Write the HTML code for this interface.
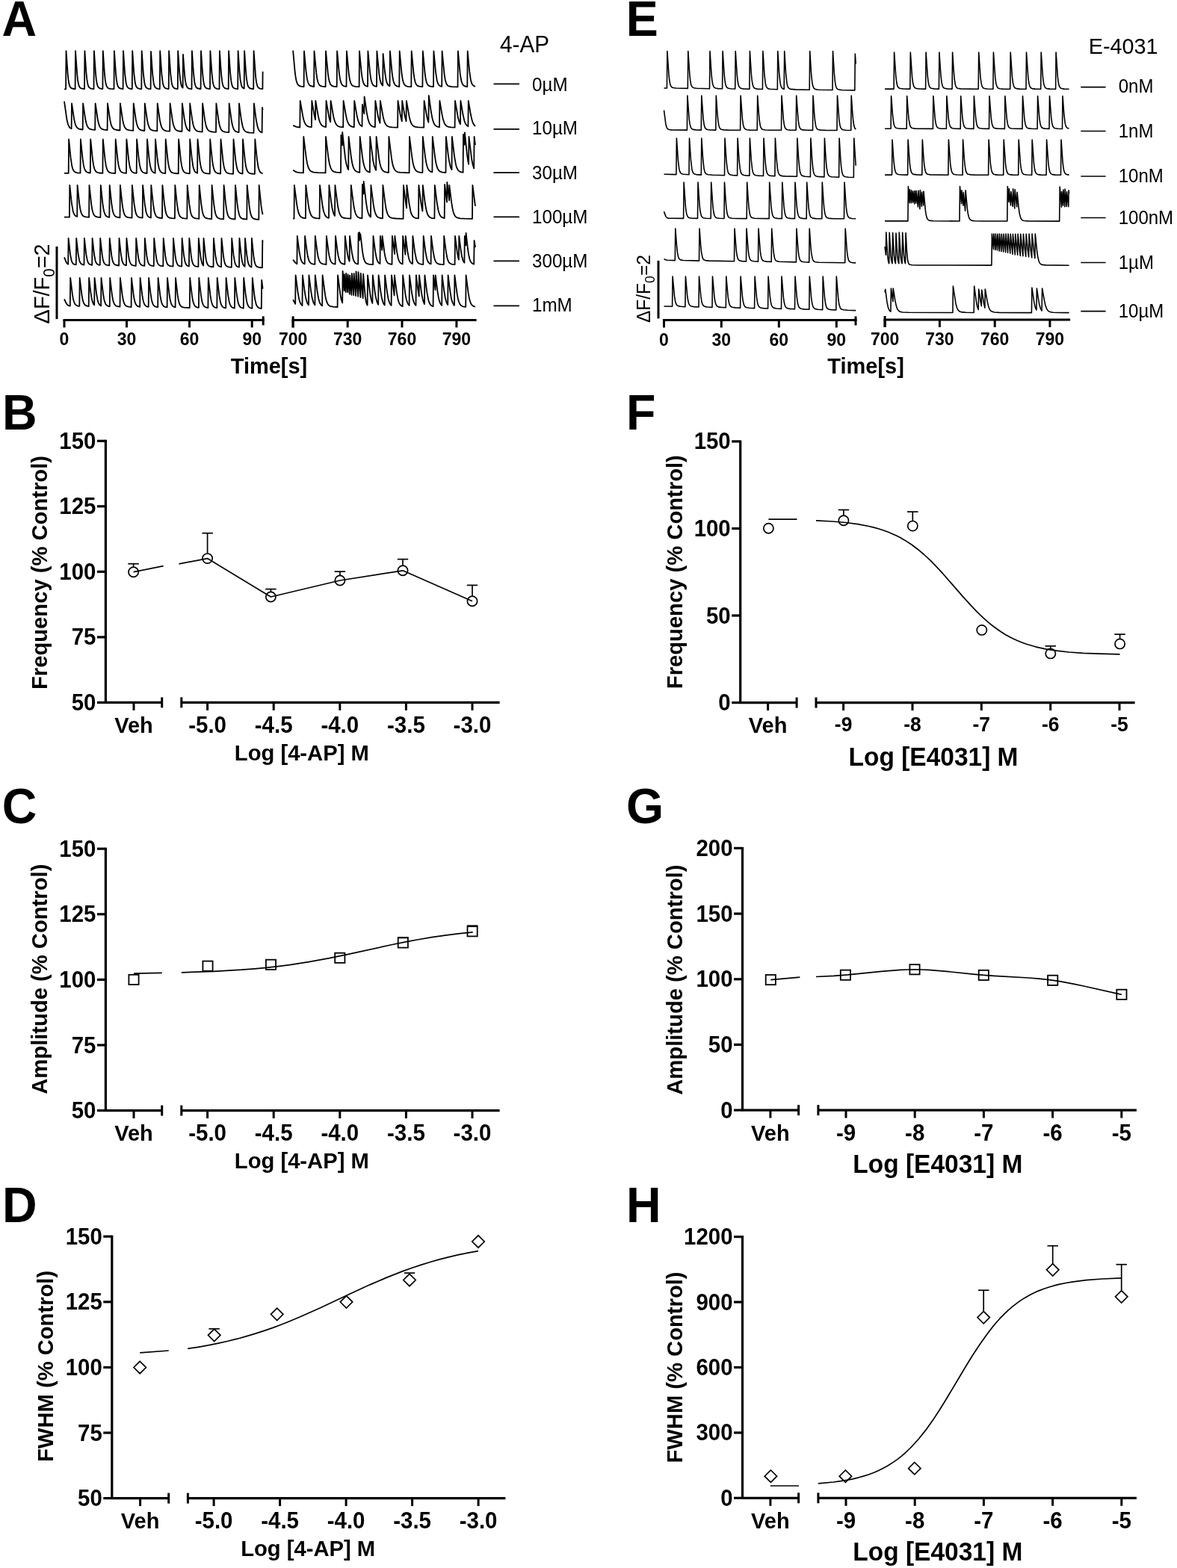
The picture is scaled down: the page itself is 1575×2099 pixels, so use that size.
<!DOCTYPE html>
<html><head><meta charset="utf-8"><title>Figure</title><style>html,body{margin:0;padding:0;background:#fff;}svg{display:block;}</style></head><body>
<svg width="1575" height="2099" viewBox="0 0 1575 2099" font-family="'Liberation Sans', Arial, sans-serif" fill="#000" stroke="#000">
<rect x="0" y="0" width="1575" height="2099" fill="#fff" stroke="none"/>
<g stroke="none">
<text transform="translate(2.6 47.5) scale(0.9605 1)" font-size="67.16" font-weight="bold" text-anchor="start" stroke="none">A</text>
<text transform="translate(2.9 574.9) scale(0.9605 1)" font-size="67.16" font-weight="bold" text-anchor="start" stroke="none">B</text>
<text transform="translate(2.8 1101.5) scale(0.9605 1)" font-size="67.16" font-weight="bold" text-anchor="start" stroke="none">C</text>
<text transform="translate(2.9 1635.6) scale(0.9605 1)" font-size="67.16" font-weight="bold" text-anchor="start" stroke="none">D</text>
<text transform="translate(837.7 47.6) scale(0.9605 1)" font-size="67.16" font-weight="bold" text-anchor="start" stroke="none">E</text>
<text transform="translate(838 574.8) scale(0.9605 1)" font-size="67.16" font-weight="bold" text-anchor="start" stroke="none">F</text>
<text transform="translate(838 1101.5) scale(0.9605 1)" font-size="67.16" font-weight="bold" text-anchor="start" stroke="none">G</text>
<text transform="translate(838 1635.6) scale(0.9605 1)" font-size="67.16" font-weight="bold" text-anchor="start" stroke="none">H</text>
</g>
<g fill="none">
<polyline points="86,119.3 88.1,119.3 88.5,68.2 90.7,99.4 91.5,106.9 92.3,111.8 93.3,115.3 94.5,117.2 96.3,118.4 99.2,119 100.6,119.1 101,68.2 103.2,99.4 104,106.9 104.8,111.8 105.8,115.3 107,117.2 108.7,118.4 111.6,118.9 113,119.1 113.4,68.2 115.5,98.3 116.3,106.2 117.1,111.3 118.1,115 119.3,117.1 121,118.3 123.8,118.9 125.5,119.1 125.9,68.2 128,98.3 128.8,106.2 129.6,111.3 130.6,115 131.8,117.1 133.5,118.3 136.2,118.9 137.4,119 137.8,68.2 139.9,98.3 140.7,106.2 141.5,111.3 142.5,115 143.7,117.1 145.3,118.3 147.9,118.9 152.5,119.2 152.9,68.2 155,98.3 155.8,106.2 156.6,111.3 157.5,114.7 158.7,117 160.3,118.2 162.8,118.9 164.6,119 165,68.2 167.1,98.3 168.6,110.8 169.5,114.4 170.7,116.9 172.2,118.1 174.7,118.8 176.8,119 177.2,68.2 179.3,98.3 180.8,110.8 181.7,114.4 182.9,116.9 184.4,118.1 186.8,118.8 189.3,119.1 189.7,68.2 191.8,98.3 193.3,110.8 194.2,114.4 195.3,116.8 196.8,118.1 199.1,118.8 201.6,119.1 202,69 204.1,98.6 205.6,110.9 206.5,114.5 207.6,116.8 209,118 211.2,118.8 213.8,119.1 214.2,68.2 216.3,98.3 217.7,110.2 218.6,114.1 219.7,116.6 221.1,118 223.2,118.7 225.7,119 226.1,68.2 228.2,98.3 229.6,110.2 230.5,114.1 231.5,116.4 232.9,117.9 234.9,118.7 237.8,119 238.2,68.2 240.1,95.8 241.2,106.9 242.6,114.1 243.5,116.3 244.6,117.6 245,73 247.2,101.3 248,108.1 248.9,112.9 249.9,115.8 251.3,117.7 253.2,118.6 256.5,119.1 256.9,68.2 258.9,97.1 260.3,109.7 261.1,113.5 262.1,116.1 263.3,117.6 265.1,118.5 268.6,119 269,68.2 271,97.1 272.3,109 273.1,113.1 274.1,115.9 275.3,117.5 276.9,118.4 281,119.1 281.4,68.2 283.4,97.1 284.6,108.4 285.4,112.7 286.3,115.5 287.4,117.2 289,118.3 290.8,118.8 293.5,119.1 293.9,68.2 295.9,97.1 297.1,108.4 297.8,112.2 298.7,115.3 299.8,117.1 301.2,118.2 303,118.7 305.7,119 306.1,68.2 308,95.8 309.2,107.7 309.9,111.8 310.7,114.7 311.7,116.8 313,118 315,118.7 318.2,119.1 318.6,68.2 320.5,95.8 321.6,106.9 323,114.1 323.9,116.3 325,117.6 326.7,118.5 327.1,68.2 328.9,94.5 329.9,105.3 331.2,113.1 332,115.5 333,117.1 333.9,117.9 335.1,118.5 339.2,119.1 339.6,68.2 342.1,102.6 343.2,110.8 344.5,115.5 345.5,117.1 346.7,118.1 348.5,118.7 351.4,119 351.6,95.7" fill="none" stroke-width="1.8" stroke-linejoin="round"/>
<polyline points="392.1,67.6 394.6,95.3 395.5,102.4 396.4,107.4 397.4,110.9 398.7,113.4 400.3,114.8 402.7,115.6 406.6,116.1 407,68.5 409.4,94.4 410.9,105.4 411.8,109.3 412.9,112.2 414.2,114.1 415.9,115.2 420.1,116 420.5,68.5 423.3,97.9 424.3,104.9 425.5,110 426.8,113 427.6,114 428.6,114.8 431.1,115.6 435.6,116.1 436,68.5 438.8,97.9 439.8,104.9 440.9,109.7 442.2,112.8 443.9,114.7 446.4,115.6 450.7,116.1 451.1,68.5 453.8,97.1 454.7,103.7 455.7,108.6 456.9,112.1 458.4,114.2 460.4,115.3 463.5,115.9 463.9,68.5 466.8,98.8 467.9,106 469.1,110.6 470.5,113.4 471.4,114.4 472.4,115 475.3,115.8 480.6,116.2 481,68.5 483.6,96.2 484.5,103.1 485.4,107.8 486.5,111.4 487.8,113.7 489.5,115 492,115.8 492.4,68.5 495,96.2 495.9,103.1 496.9,108.3 498,111.7 499.4,113.9 501.2,115.2 504,115.9 504.4,68.5 507.3,98.8 508.4,106 509.7,110.9 510.8,113.2 512.2,114.6 512.6,72 515,96 516.5,106.3 517.4,109.9 518.5,112.6 519.8,114.3 521.5,115.3 521.9,68.5 524.6,97.1 525.5,103.8 526.5,108.7 527.7,112.1 529.2,114.3 531.2,115.4 534.3,116 534.7,68.5 537.5,98 538.6,105.5 539.8,110.4 541.2,113.3 543,115 545.6,115.8 550.3,116.2 550.7,68.5 553.5,98 554.5,104.9 555.6,109.8 556.9,112.9 558.6,114.8 561.1,115.7 565.4,116.2 565.8,68.5 568.6,98 569.6,105 570.7,109.8 572,112.9 573.6,114.7 575.9,115.7 580,116.2 580.4,68.5 583,96.3 584.7,107.5 585.8,111.2 587.1,113.6 588.8,115.1 591.2,115.8 591.6,68.5 594.6,99.6 595.8,107 597.2,111.7 598.8,114.2 599.8,115 601.1,115.5 605.1,116.1 612.5,116.4 612.9,68.5 615.6,97.2 616.5,103.8 617.5,108.7 618.7,112.2 620.2,114.3 622.2,115.5 625.3,116.1 625.7,68.5 628.2,95.4 629.9,107 631,111 632.2,113.4 633.8,114.9 636,115.8" fill="none" stroke-width="1.8" stroke-linejoin="round"/>
<polyline points="86,135.6 89.5,160.3 90.9,166 92.6,169.8 93.9,171.3 95.6,172.3 96,138.5 99.1,159.1 100.2,164.2 101.4,168 102.8,170.5 104.6,172.1 106.9,173 110.7,173.5 111.1,138.5 114.3,159.8 115.4,164.8 116.7,168.7 118.2,171.1 120.1,172.6 122.7,173.4 127.2,173.8 127.6,138.5 130.8,160 131.9,165.1 133.2,168.9 134.7,171.4 136.6,172.9 139.2,173.7 143.6,174.2 144,138.5 147.2,160.2 148.4,165.7 149.7,169.4 151.2,171.8 153.1,173.2 155.8,174 160.5,174.5 160.9,138.5 164.2,160.9 165.4,166.3 166.7,169.9 168.3,172.3 170.3,173.7 173.2,174.4 178.3,174.9 178.7,138.5 181.8,160 182.9,165.4 184.1,169.3 185.5,171.9 187.3,173.6 189.6,174.5 193.4,175 193.8,138.5 197,160.8 198.2,166.4 199.5,170.2 201,172.7 202.9,174.1 205.6,174.9 210.3,175.4 210.7,138.5 213.9,161 215.1,166.6 216.4,170.5 217.9,173 219.8,174.4 222.5,175.3 227.2,175.7 227.6,138.5 230.8,161.2 231.9,166.5 233.2,170.5 234.7,173.1 236.5,174.6 239.1,175.5 243.5,176 243.9,138.5 246.7,158.9 248.4,167.5 249.4,170.5 250.6,172.9 252,174.4 253.8,175.4 254.2,138.5 257.3,160.9 258.4,166.4 259.6,170.5 261,173.2 262.7,174.9 265,175.8 268.8,176.4 270.7,176.6 271.1,138.5 274.2,161.1 275.3,166.7 276.4,170.5 277.7,173.2 279.4,175 281.5,176 284.8,176.6 289,176.9 289.4,138.5 292.4,160.6 293.4,166 294.5,170.2 295.8,173.2 297.3,175.1 299.2,176.2 302.1,176.9 306.3,177.2 306.7,138.5 309.7,160.8 310.6,165.8 311.6,169.8 312.8,172.9 314.2,175 315.9,176.2 318.3,177 319.6,177.2 320,138.5 322.9,160.3 324.7,169.3 325.8,172.5 327.1,174.7 328.6,176.1 330.7,177 334,177.6 339.5,177.9 339.9,138.5 342.8,160.5 344.6,169.6 345.7,172.8 347,175.1 348.5,176.5 350.6,177.4 351,144 351.6,147.2" fill="none" stroke-width="1.8" stroke-linejoin="round"/>
<polyline points="392.1,167.9 396.7,169.8 401.3,170.5 401.7,135 405.3,155.7 406.5,160.7 407.7,164.1 409.2,166.8 411,168.6 413.4,169.6 416.9,170.2 417.3,135 420.4,153.2 422,160.3 422.3,135 425.8,155.2 426.9,160 428.1,163.6 429.5,166.4 431.2,168.3 433.2,169.4 436.1,170 436.5,135 440,155.2 441.1,160 442.2,163.4 442.6,135 446.3,156.2 447.6,161.4 448.9,164.8 450.5,167.4 452.5,169 455.1,169.9 459.2,170.3 459.6,135 463.1,155.3 464.2,160 465.4,163.7 466.9,166.6 468.6,168.4 470.7,169.5 473.8,170.1 474.2,135 477.4,153.7 479.1,161.1 480.2,164.2 481.4,166.5 482.8,168.1 484.5,169.2 484.9,140 487.3,152.2 487.6,129.5 490.8,151.1 492.5,159.6 493.6,163.2 494.8,165.8 496.2,167.7 497.9,169 499.6,169.7 501.9,170.1 502.3,135 505.9,155.8 507.2,161.1 508.5,164.7 508.9,135 512.9,157.6 514.4,162.9 516.1,166.5 518.1,168.6 520.7,169.8 524.7,170.4 532.1,170.7 532.5,135 535.8,154.3 537.8,162.4 538.2,135 541.5,154.3 543.5,162.4 543.9,135 547.9,157.6 549.4,163 551.1,166.5 553.1,168.7 555.7,169.8 559.8,170.4 567.2,170.7 567.6,135 571.1,155.3 572.2,160.1 573.4,163.8 573.8,128 576.9,149.8 578.6,158.8 579.6,162.4 580.8,165.4 582.1,167.4 583.6,168.7 585.5,169.6 588,170.2 588.4,135 591.4,152.7 592.7,158.9 594.4,164.3 595.3,166.1 596.4,167.6 598.1,169 600.3,169.9 603.5,170.4 608.6,170.7 609,135 612.9,157.3 614.4,162.7 616,166.3 616.4,135 619.6,153.8 621.3,161.2 622.3,164.1 623.5,166.5 624.8,168.1 626.4,169.2 626.8,135 629.9,153.3 631.4,160.1 632.4,163.3 633.4,165.6 634.6,167.5 636,168.8" fill="none" stroke-width="1.8" stroke-linejoin="round"/>
<polyline points="86,231.8 91.7,231.8 92.1,186.5 94.6,211.2 96.1,221.3 97,225 98.1,227.8 99.4,229.6 101,230.7 103.5,231.3 107.5,231.7 107.9,186.5 110.7,213.7 111.7,220.4 112.7,224.7 113.9,227.9 115.5,230 117.5,231 120.8,231.6 121.2,186.5 124.1,214.5 125.2,221.5 126.4,226.1 127.8,228.9 128.7,229.9 129.7,230.6 132.5,231.5 137.4,231.9 137.8,186.5 140.8,215.4 141.9,222 143.1,226.4 144.5,229.2 146.4,230.8 149.2,231.6 154.3,232 154.7,186.5 157.6,214.7 158.6,221.1 159.7,225.6 161,228.6 162.7,230.5 165,231.4 169,231.9 169.4,186.5 172.2,213.9 173.2,220.6 174.2,225 175.4,228.2 177,230.3 179.2,231.4 182.7,231.9 183.1,186.5 185.9,214 186.9,220.7 188,225.4 189.3,228.6 190.9,230.5 193.1,231.5 196.6,232 197,186.5 199.6,212.3 200.5,219 201.4,223.6 202.5,227.2 203.7,229.4 205.3,230.9 207.6,231.7 208,186.5 210.8,214 211.8,220.8 212.8,225.2 214,228.4 215.6,230.5 217.8,231.6 221.3,232.1 221.7,186.5 224.7,215.6 225.8,222.4 227,226.8 228.5,229.7 230.4,231.2 233.3,232 238.7,232.4 239.1,186.5 242,214.9 243,221.4 244.1,226 245.5,229.2 247.2,231 249.6,231.9 253.8,232.4 254.2,186.5 256.8,212.5 258.4,223 259.4,226.7 260.6,229.3 262.1,230.9 264.1,231.8 264.5,186.5 267.5,215.8 268.6,222.5 269.8,227 271.2,229.8 273.1,231.4 275.9,232.2 280.8,232.6 281.2,186.5 284,214.3 285,221 286.1,225.9 287.4,229.1 289,231 291.3,232 295.1,232.6 295.5,186.5 298.5,215.9 299.6,222.7 300.8,227.2 302.2,229.9 304.1,231.6 307,232.4 312.1,232.8 312.5,186.5 315.2,213.5 316.1,220 317.1,224.9 318.3,228.5 319.7,230.6 321.6,231.9 324.6,232.6 325,186.5 327.9,215.2 329,222.3 330.2,227 331.6,229.9 333.4,231.6 336.1,232.5 340.9,232.9 341.3,186.5 343.9,212.8 345.6,223.8 346.7,227.6 347.9,230 349.4,231.5 351.6,232.4" fill="none" stroke-width="1.8" stroke-linejoin="round"/>
<polyline points="392.1,227.8 395.4,229.8 397.7,230.7 400.7,231.1 405.9,231.3 406.3,183 409.9,212.3 411.2,219.4 412.7,224.5 414.4,227.7 415.4,228.8 416.6,229.6 419.7,230.6 425.1,231.1 435.6,231.3 436,183 439.7,213 441.1,220.3 442.6,225.1 444.4,228.1 445.5,229.1 446.7,229.8 450.1,230.7 456,231.1 456.4,181 458,194.6 458.2,177 462,211.4 463.5,219.8 465.2,225.3 466.2,227.2 466.6,183 470,211 471.2,218 472.4,222.8 473.8,226.3 475.6,228.7 477.9,230.1 481.3,230.8 481.7,183 485,210.3 486.1,217 487.2,221.8 488.5,225.5 490.1,228.1 492.1,229.7 494.8,230.6 495.2,183 499.1,214.2 500.6,221.5 502.3,226.2 503.2,227.7 503.6,183 507.1,211.7 508.3,218.5 509.7,223.8 511.3,227.2 513.2,229.2 515.8,230.4 520,231 520.4,183 523.9,211.7 525.1,218.5 526.3,223.2 527.8,226.7 529.7,229 532.1,230.3 535.9,230.9 547.6,231.4 548,183 551.4,211 552.5,217.6 553.7,222.6 555.1,226.2 556.9,228.7 559.1,230.1 562.5,230.8 565.4,231.1 565.8,183 569.1,210.3 570.1,216.6 571.2,221.5 572.5,225.4 574,228 575.9,229.6 578.4,230.5 578.8,183 582.1,210.3 583.2,217.1 584.3,221.9 585.6,225.6 587.2,228.2 589.1,229.7 591.8,230.6 596.5,231.1 596.9,183 599.7,206.6 600.9,214.9 602.6,222.6 603.5,225.2 604.5,227.1 604.9,183 608.1,209.6 610,220.4 611.2,224.4 612.5,227.1 614.1,229 616.2,230.2 619.6,230.9 620,180 621.6,193.9 621.9,177.4 625,206.9 626,214.1 627.1,219.9 627.5,183 631.2,213.1 632.6,220.4 634.2,225.4 634.6,183 636,194.2" fill="none" stroke-width="1.8" stroke-linejoin="round"/>
<polyline points="86,290.6 92.9,290.7 93.3,248 95.9,272.1 97.5,281.7 98.5,285.2 99.7,287.6 101.2,289.1 103.2,290 103.6,248 106.3,272.9 107.2,278.9 108.1,283.1 109.2,286.3 110.6,288.5 112.4,289.8 115,290.4 119.1,290.8 119.5,248 122.2,273.1 123.1,279.1 124,283.2 125.1,286.5 126.5,288.7 128.2,289.9 130.7,290.6 134.4,291 134.8,248 137.4,272.4 138.3,278.6 139.2,283 140.3,286.4 141.6,288.7 143.3,290 145.8,290.8 146.3,290.9 146.7,248 149.3,272.5 150.2,278.7 151.1,283.2 152.2,286.6 153.5,288.8 155.1,290.1 157.5,290.9 160.5,291.3 160.9,248 163.5,272.6 164.4,278.9 165.3,283.3 166.4,286.8 167.6,288.9 169.2,290.3 171.5,291.1 176.5,291.6 176.9,248 179.5,272.7 181.2,283.1 182.3,286.7 183.5,288.9 185.1,290.4 187.3,291.2 190.7,291.7 191.1,248 193.7,272.8 195.4,283.2 196.5,286.9 197.7,289.1 199.2,290.5 201.3,291.4 201.9,291.5 202.3,248 204.9,272.9 206.6,283.3 207.6,286.7 208.8,289.1 210.3,290.6 212.3,291.5 217,292.1 217.4,248 220,273 221.6,283.1 222.6,286.7 223.8,289.2 225.2,290.7 227.2,291.6 229.8,292.1 233.9,292.4 234.3,248 236.8,272.3 238.4,282.8 239.4,286.6 240.5,289.1 241.9,290.7 243.8,291.8 246.3,292.3 250.3,292.6 250.7,248 253.2,272.4 254.8,283 255.7,286.5 256.8,289.1 258.1,290.8 259.8,291.8 262.3,292.4 266.3,292.8 266.7,248 269.2,272.5 270.7,282.7 271.6,286.3 272.7,289.1 273.9,290.8 275.5,291.9 278.3,292.7 283.2,293.1 283.6,248 286.1,272.7 287.5,282.3 288.3,285.8 289.3,288.7 290.5,290.7 291.9,291.9 294.5,292.8 299.2,293.3 299.6,248 302,271.9 303.3,281.4 304.2,285.6 305.1,288.4 306.1,290.4 307.4,291.8 308.5,292.4 310,292.9 314.6,293.5 315,248 317.3,271.1 318.5,280.4 320.1,287.5 321,289.7 322.1,291.3 323.3,292.3 324.9,293 330.3,293.7 330.7,248 333.9,278.5 335.2,285.6 336.8,290.1 338.1,291.8 339.8,292.9 342.3,293.5 346.3,293.9 346.7,248 349.5,275.7 350.5,282.4 351.6,287.2" fill="none" stroke-width="1.8" stroke-linejoin="round"/>
<polyline points="392.1,292.7 393.5,292.7 393.9,248 397.2,273.8 398.3,280 399.5,284.7 400.9,288.1 402.6,290.2 404.8,291.5 408.2,292.2 408.9,292.2 409.3,248 412.6,273.8 413.7,280 414.9,284.7 416.3,288.1 418,290.2 420.1,291.5 423.3,292.1 427.6,292.5 428,248 431.7,276.3 433.1,283 434.7,287.5 435.7,289.2 436.9,290.4 438.3,291.3 440,291.8 440.4,248 443.1,269.6 444.4,278 446,284.7 446.9,287.1 448,289 448.4,248 452.1,276.3 453.5,283 455,287.3 456.8,290 457.9,290.9 459.2,291.5 462.8,292.2 469.4,292.6 469.8,248 473.2,274.5 474.3,280.5 475.5,285 476.9,288.3 478.7,290.5 481,291.6 484.5,292.3 484.9,247 486.5,259.7 486.7,243 489.6,268.6 491.2,279.2 492.2,283.5 493.3,286.7 494.5,289 496,290.5 496.4,248 499.6,273.2 500.6,279.1 501.7,283.8 503,287.3 504.5,289.7 506.3,291.1 508.9,292 512,292.4 512.4,248 515.6,273.2 516.6,279.1 517.6,283.4 518.8,286.9 520.3,289.5 522.1,291 524.5,291.9 529.7,292.5 539.6,292.8 540,248 542.8,270.4 544.1,278.6 544.4,248 547.5,272.5 549.4,282.7 550.6,286.5 552,289.1 553.6,290.7 555.8,291.8 560,292.4 560.4,248 563.5,272.5 565.4,282.7 565.8,248 568.9,272.5 570.7,282.3 571.8,286 573.1,288.7 574.6,290.4 576.6,291.6 578.6,292.1 581.4,292.4 581.8,248 584.8,271.8 586.5,281.5 587.5,285.1 588.7,288 590.1,290 591.8,291.2 594.7,292.1 595.1,247 598,270.6 598.3,244 601.1,268.4 601.3,248 604.2,271.1 605.7,280.1 606.6,283.8 607.6,286.7 608.7,288.9 610.1,290.5 612.4,291.7 615.8,292.4 621.8,292.7 632,292.9 632.4,248 636,275.8" fill="none" stroke-width="1.8" stroke-linejoin="round"/>
<polyline points="86,344.4 88.7,351.1 89.8,352.7 91.2,353.8 91.6,319 94,340.2 95.6,348.6 96.6,351.2 97.8,352.9 99.4,353.9 101.8,354.4 102.2,319 104.6,340.3 106.2,348.7 107.2,351.3 108.4,353 110,354 112.5,354.6 112.9,319 115.3,340.4 116.9,348.8 117.9,351.5 119.1,353.2 120.7,354.2 123.2,354.8 123.6,319 126,340.5 127.6,349 128.6,351.6 129.8,353.3 131.4,354.3 133.8,354.9 134.2,319 136.7,341.3 137.6,346.6 138.5,350.1 139.6,352.5 141,354 143,354.8 146.3,355.3 146.7,319 149.2,341.4 150.1,346.8 151,350.2 152.1,352.7 153.6,354.2 155.6,355 159.1,355.5 159.5,319 161.8,340.1 163.4,349.1 164.4,351.9 165.5,353.6 166.9,354.7 169,355.3 169.4,319 171.9,341.7 172.8,347 173.7,350.5 174.8,353 176.3,354.6 178.3,355.3 181.8,355.8 182.2,319 184.6,341 185.4,346.2 186.3,350 187.4,352.8 188.7,354.4 190.5,355.4 193.4,355.9 193.8,319 196.3,341.9 197.2,347.3 198.1,350.8 199.2,353.3 200.6,354.8 202.5,355.7 205.8,356.1 206.2,319 208.7,342 209.6,347.5 210.5,351 211.6,353.5 213,355 215,355.9 218.3,356.3 218.7,319 221.2,342.1 222.1,347.6 223.1,351.5 224.3,354 225.8,355.4 227.9,356.1 231.6,356.6 232,319 234.4,341.5 235.2,346.7 236.1,350.7 237.2,353.5 238.5,355.2 240.3,356.1 243.2,356.6 243.6,319 245.9,340.8 247.4,349.7 248.4,352.8 249.5,354.7 250.9,355.9 252.9,356.5 253.3,319 255.8,342.4 256.7,348 257.6,351.6 258.7,354.1 260.1,355.7 262.1,356.6 265.4,357 265.8,319 267.8,338.4 268.9,346.5 270.3,352.4 271.1,354.1 272.1,355.5 272.5,319 275,342.6 275.9,348.2 276.9,352.1 278.1,354.7 279.6,356.2 281.8,357 285.5,357.4 285.9,319 288.3,342 289.9,351 290.9,353.8 292.1,355.6 293.7,356.7 296.1,357.3 296.5,319 299,342.8 299.9,348.5 300.9,352.5 302.1,355.1 303.6,356.5 305.8,357.3 309.8,357.8 310.2,319 312.5,341.4 314.1,350.9 315.1,353.9 316.3,355.9 317.8,357 320,357.6 320.4,319 322.5,339.7 323.7,348.2 324.5,351.8 325.3,354.1 326.3,355.8 327.6,356.9 328,319 330.2,340.7 331.6,349.8 332.5,353.2 333.5,355.3 334.8,356.8 336.5,357.6 336.9,319 339.4,343.2 340.3,349 341.4,353.3 342.6,355.8 344.2,357.2 346.6,358 350.9,358.4 351.3,322 351.6,324" fill="none" stroke-width="1.8" stroke-linejoin="round"/>
<polyline points="392.1,347.6 395.1,351.6 397.4,353.3 397.8,316 400.5,337 402.2,345.9 403.2,348.9 404.4,351.1 405.8,352.5 407.7,353.3 408.1,316 411,338.3 412,343.8 413.1,347.8 414.4,350.6 416,352.4 418.1,353.3 421.4,353.9 421.8,316 424.8,339 425.8,344.3 426.9,348.1 428.2,350.8 429.9,352.5 432.1,353.4 435.8,353.9 436.5,354 436.9,316 439.7,337.7 440.6,342.9 441.6,346.9 442.8,350 444.2,351.9 446,353.1 448.6,353.7 449,316 451.4,334.9 452.5,341.9 454,347.9 454.8,349.8 455.8,351.4 456.8,352.4 458,353 461.4,353.8 461.8,316 465,340.2 466.2,345.9 467.6,349.8 468,316 470.8,337.7 472.6,346.6 473.7,349.6 475.1,351.7 476.8,353 479.2,353.6 479.6,312 480.8,322 481,311 482.1,320.2 482.3,313.4 485.1,337.1 486.1,343 487.1,347.1 488.3,350.1 489.8,352.1 491.7,353.2 494.4,353.8 499.1,354.1 499.5,316 502.1,336.4 503.7,345.1 504.6,348.2 505.7,350.6 506.9,352.1 508.5,353.1 508.9,316 511.3,334.9 511.6,316 514.5,338.4 515.4,343.4 516.4,347.3 517.6,350.2 519.1,352.2 521,353.2 523.8,353.8 524.5,353.9 524.9,316 528.1,340.2 528.4,316 531.1,337.1 532.9,346.3 534,349.4 535.2,351.4 536.7,352.7 538.7,353.5 539.1,316 542.4,340.8 542.7,316 545.3,336.4 546.9,345.2 547.9,348.5 549,350.7 550.3,352.3 552,353.2 552.4,316 555.2,337.8 557,346.7 558.1,349.7 559.4,351.7 561.1,353 563.4,353.7 566.3,354 566.7,316 569.4,337.1 571.1,346 572.1,349 573.3,351.2 574.7,352.6 576.6,353.4 577,316 579.7,337.1 581.4,346 582.5,349.2 583.7,351.3 585.2,352.7 587.1,353.5 589.7,353.9 593.8,354.2 594.2,316 596.8,336.4 598.4,345.2 599.4,348.5 600.5,350.8 601.8,352.3 603.5,353.3 605.5,353.8 608.6,354.1 609,316 611.9,338.4 612.9,343.9 613.9,347.7 614.3,316 616.7,335 617.9,342.5 619.5,348.5 620.4,350.5 621.4,351.8 621.8,316 623.4,328.5 623.6,312 626,333 627.1,340.7 628.5,347 629.3,349.2 630.2,350.9 631.9,352.7 634.2,353.6 634.6,322 636,331.1" fill="none" stroke-width="1.8" stroke-linejoin="round"/>
<polyline points="86,400.3 88.3,405.3 89.7,407.5 91.5,409 93.8,409.7 94.2,372 96.9,394.2 97.8,399.5 98.8,403.5 100,406.4 101.4,408.2 103.3,409.3 106.3,409.9 106.7,372 109.4,394.3 110.3,399.6 111.3,403.7 112.5,406.6 113.9,408.4 115.8,409.4 118.7,410 119.1,372 121.3,390.6 122.4,398.1 123.8,404.1 125.4,407.5 126.2,408.4 126.6,372 129.1,393 130.5,401.2 131.4,404.5 132.4,406.8 133.6,408.4 135.1,409.4 135.5,372 138.2,394.5 139.1,399.9 140,403.6 141.1,406.6 142.5,408.5 144.2,409.6 146.8,410.3 147.2,372 150,395.3 151,401 152,404.7 153.2,407.4 154.8,409.2 157,410.2 160.5,410.7 160.9,372 163.7,395.4 164.7,401.1 165.8,405.2 167.1,407.9 168.7,409.5 170.9,410.4 174.7,410.9 175.6,411 176,372 178.7,394.8 179.6,400.3 180.5,404.1 181.6,407 183,409.1 184.7,410.2 187.2,410.8 187.6,372 190.3,394.9 191.2,400.4 192.1,404.2 193.2,407.2 194.5,409.1 196.2,410.3 198.7,410.9 199.1,372 201.8,395 202.7,400.5 203.7,404.7 204.9,407.7 206.3,409.5 208.2,410.6 211.2,411.2 211.6,372 214.3,395.1 215.2,400.6 216.2,404.8 217.4,407.8 218.8,409.7 220.7,410.8 223.6,411.4 224,372 226.6,394.5 227.5,400.2 228.4,404.2 229.5,407.4 230.7,409.3 232.3,410.6 234.6,411.3 235,372 237.7,395.3 238.6,400.8 239.6,405.1 240.8,408.1 242.2,410 244.1,411.1 246.9,411.7 253.8,412.1 254.2,372 256.9,395.4 257.8,401 258.7,404.9 259.8,407.9 261.2,410 262.9,411.2 265.5,411.8 265.9,411.9 266.3,372 268.9,394.8 269.8,400.6 270.7,404.7 271.8,407.9 273.1,410 274.8,411.2 277.2,411.9 278.4,412.1 278.8,372 281.4,394.9 282.3,400.7 283.2,404.8 284.3,408 285.5,410 287.1,411.3 289.3,412 290.3,412.2 290.7,372 293.3,394.9 295,404.6 296,407.7 297.2,409.9 298.7,411.3 300.7,412.1 302.2,412.3 302.6,372 305.1,394.3 306.7,403.9 307.7,407.3 308.8,409.6 310.2,411.2 312.1,412.1 313.9,412.5 314.3,372 316.8,394.3 318.3,403.5 319.2,406.9 320.3,409.4 321.6,411.1 323.2,412 325.8,412.7 326.2,372 328.6,393.6 330,402.7 330.9,406.4 331.8,408.8 332.9,410.6 334.3,411.8 335.6,412.4 337.4,412.8 337.8,372 340.1,392.9 341.3,401.3 342.8,407.4 343.7,409.5 344.8,411.1 346.7,412.3 349.8,413 350.2,375 351.6,386.7" fill="none" stroke-width="1.8" stroke-linejoin="round"/>
<polyline points="392.1,401.3 395.2,406.9 395.6,368.4 398.4,390.2 399.9,399.1 400.9,403 401.9,405.7 403.1,407.7 404.5,409.1 404.9,368.4 407.6,389.5 409,398.1 410.8,404.7 411.8,406.8 413,408.4 413.4,368.4 416.1,389.5 417.5,398.1 419.3,404.7 420.3,406.8 421.4,408.3 421.8,368.4 424.7,391 426.3,400 427.3,403.6 428.4,406.3 429.7,408.2 431.2,409.4 431.6,368.4 435.2,395.4 436.5,401.6 438,405.9 439.7,408.4 440.7,409.2 442,409.9 445.4,410.6 451.6,411 452,368.4 455.5,394.9 456.8,401.2 458.2,405.5 458.6,363 460.6,389.2 460.8,367.2 462.8,391.1 463.2,365.8 465.2,391.2 465.6,367.3 467.8,393.7 468.1,368.6 470.4,394.9 470.8,366.2 473.2,395.2 473.6,366.1 476.1,396.1 476.5,363.4 478.2,386.4 479.2,396.8 479.5,364.1 481.4,388.7 482.4,398.2 482.7,365.9 484.7,390.3 485.7,399.2 486.1,366.7 488.8,397.6 490,404.5 490.7,406.8 491.6,408.5 492,368.4 495.6,395.5 496.9,401.6 498.4,405.9 498.8,368.4 501.5,389.6 502.7,397.1 504.3,403.7 505.2,405.9 506.2,407.7 506.6,368.4 509.3,389.6 510.7,398.2 512.5,404.8 513.5,406.9 514.7,408.5 515.1,368.4 517.9,390.3 519.3,398.7 520.2,402.4 521.2,405.3 522.3,407.4 523.6,408.9 524,368.4 527.6,395.5 527.9,368.4 530.9,391.7 532.7,401.3 533.8,404.8 535.1,407.4 536.7,409.1 538.7,410.1 539.1,368.4 542.6,394.9 543.8,400.9 545.2,405.3 546.3,407.4 547.6,408.9 548,368.4 550.8,390.3 552.2,398.7 553.1,402.4 554.1,405.3 555.2,407.4 556.5,408.9 556.9,368.4 559.5,388.8 560.7,396.6 561,368.4 563.6,388.8 564.8,396.6 566.3,403.1 568,407.1 568.4,368.4 571.4,391.7 573.3,401.7 574.5,405.3 575.8,407.7 577.4,409.3 579.6,410.3 580,368.4 582.5,388.1 582.7,368.4 585.5,390.3 586.9,398.7 587.8,402.4 588.8,405.3 589.9,407.4 591.2,408.9 591.6,368.4 594.3,389.6 595.6,397.7 597.2,404 598.1,406.2 599.2,408 599.6,368.4 602.4,390.3 603.8,398.7 604.7,402.4 605.7,405.3 606.8,407.4 608,408.8 608.4,368.4 611.7,393.7 612.8,399.7 614,404 615.4,407.1 617.2,409.2 619.5,410.3 623.2,410.9 623.6,368.4 626.7,392.4 627.7,398.2 628.8,402.8 630.1,406.2 631.6,408.5 633.4,409.8 636,410.6" fill="none" stroke-width="1.8" stroke-linejoin="round"/>
</g>
<line x1="76" y1="330" x2="76" y2="427.1" stroke-width="3" stroke-linecap="butt"/>
<line x1="84.5" y1="428.4" x2="353.7" y2="428.4" stroke-width="3" stroke-linecap="butt"/>
<line x1="86" y1="428.4" x2="86" y2="438.4" stroke-width="3" stroke-linecap="butt"/>
<line x1="169.5" y1="428.4" x2="169.5" y2="438.4" stroke-width="3" stroke-linecap="butt"/>
<line x1="253.5" y1="428.4" x2="253.5" y2="438.4" stroke-width="3" stroke-linecap="butt"/>
<line x1="337.2" y1="428.4" x2="337.2" y2="438.4" stroke-width="3" stroke-linecap="butt"/>
<line x1="352.2" y1="423.4" x2="352.2" y2="435.4" stroke-width="3" stroke-linecap="butt"/>
<g stroke="none">
<text transform="translate(86 462.4) scale(0.9605 1)" font-size="23.95" font-weight="bold" text-anchor="middle" stroke="none">0</text>
<text transform="translate(169.5 462.4) scale(0.9605 1)" font-size="23.95" font-weight="bold" text-anchor="middle" stroke="none">30</text>
<text transform="translate(253.5 462.4) scale(0.9605 1)" font-size="23.95" font-weight="bold" text-anchor="middle" stroke="none">60</text>
<text transform="translate(337.2 462.4) scale(0.9605 1)" font-size="23.95" font-weight="bold" text-anchor="middle" stroke="none">90</text>
</g>
<line x1="390.6" y1="428.4" x2="637.6" y2="428.4" stroke-width="3" stroke-linecap="butt"/>
<line x1="392.1" y1="428.4" x2="392.1" y2="438.4" stroke-width="3" stroke-linecap="butt"/>
<line x1="465.2" y1="428.4" x2="465.2" y2="438.4" stroke-width="3" stroke-linecap="butt"/>
<line x1="538" y1="428.4" x2="538" y2="438.4" stroke-width="3" stroke-linecap="butt"/>
<line x1="610.9" y1="428.4" x2="610.9" y2="438.4" stroke-width="3" stroke-linecap="butt"/>
<line x1="392.1" y1="423.4" x2="392.1" y2="438.4" stroke-width="3" stroke-linecap="butt"/>
<g stroke="none">
<text transform="translate(392.1 462.4) scale(0.9605 1)" font-size="23.95" font-weight="bold" text-anchor="middle" stroke="none">700</text>
<text transform="translate(465.2 462.4) scale(0.9605 1)" font-size="23.95" font-weight="bold" text-anchor="middle" stroke="none">730</text>
<text transform="translate(538 462.4) scale(0.9605 1)" font-size="23.95" font-weight="bold" text-anchor="middle" stroke="none">760</text>
<text transform="translate(610.9 462.4) scale(0.9605 1)" font-size="23.95" font-weight="bold" text-anchor="middle" stroke="none">790</text>
</g>
<g stroke="none">
<text transform="translate(360 500) scale(0.9605 1)" font-size="30.19" font-weight="bold" text-anchor="middle" stroke="none">Time[s]</text>
<text transform="translate(66.4 433.4) rotate(-90) scale(0.9605 1)" font-size="30.09" font-weight="normal" text-anchor="start" stroke="none">ΔF/F<tspan dy="7" font-size="21.34">0</tspan><tspan dy="-7">=2</tspan></text>
<text transform="translate(669 69.6) scale(0.9605 1)" font-size="30.92" font-weight="normal" text-anchor="start" stroke="none">4-AP</text>
<text transform="translate(712 121.5) scale(0.9605 1)" font-size="25.2" font-weight="normal" text-anchor="start" stroke="none">0µM</text>
<text transform="translate(712 180.4) scale(0.9605 1)" font-size="25.2" font-weight="normal" text-anchor="start" stroke="none">10µM</text>
<text transform="translate(712 239.5) scale(0.9605 1)" font-size="25.2" font-weight="normal" text-anchor="start" stroke="none">30µM</text>
<text transform="translate(712 298.6) scale(0.9605 1)" font-size="25.2" font-weight="normal" text-anchor="start" stroke="none">100µM</text>
<text transform="translate(712 357.8) scale(0.9605 1)" font-size="25.2" font-weight="normal" text-anchor="start" stroke="none">300µM</text>
<text transform="translate(712 417) scale(0.9605 1)" font-size="25.2" font-weight="normal" text-anchor="start" stroke="none">1mM</text>
</g>
<line x1="660.5" y1="112.3" x2="695" y2="112.3" stroke-width="1.7" stroke-linecap="butt"/>
<line x1="660.5" y1="172.8" x2="695" y2="172.8" stroke-width="1.7" stroke-linecap="butt"/>
<line x1="660.5" y1="231.2" x2="695" y2="231.2" stroke-width="1.7" stroke-linecap="butt"/>
<line x1="660.5" y1="290.4" x2="695" y2="290.4" stroke-width="1.7" stroke-linecap="butt"/>
<line x1="660.5" y1="349.3" x2="695" y2="349.3" stroke-width="1.7" stroke-linecap="butt"/>
<line x1="660.5" y1="409.3" x2="695" y2="409.3" stroke-width="1.7" stroke-linecap="butt"/>
<g fill="none">
<polyline points="888.5,118 892.4,118 892.9,68.5 895,99.9 895.8,107.3 896.6,111.9 897.6,114.9 899,116.7 901,117.5 904.7,118 920.3,118.4 920.8,68.5 922.9,100.1 923.7,107.6 924.5,112.2 925.5,115.2 926.8,116.9 928.7,117.8 932.2,118.3 949.5,118.7 950,68.5 952,99.1 952.8,107.1 953.6,112 954.6,115.3 955.8,117.1 957.6,118 960.9,118.6 966.6,118.8 967.1,68.5 969.1,99.2 969.9,107.2 970.7,112.2 971.7,115.5 972.9,117.3 974.7,118.2 977.7,118.7 983.7,119 984.2,68.5 986.2,99.3 986.9,106.6 987.7,111.8 988.6,115.2 989.8,117.2 991.5,118.3 994.5,118.9 1002.9,119.3 1003.4,68.5 1005.4,99.5 1006.1,106.7 1006.9,112 1007.8,115.4 1009,117.5 1010.6,118.5 1013.3,119.1 1020.4,119.5 1020.9,68.5 1022.9,99.6 1024.3,111.7 1025.2,115.3 1026.3,117.4 1027.8,118.6 1030.4,119.2 1040.3,119.7 1040.8,68.5 1042.7,98.4 1044,110.7 1044.8,114.5 1045.8,117 1047.1,118.5 1049.2,119.3 1049.7,68.5 1051.6,98.5 1053,111.4 1053.9,115.3 1054.9,117.4 1056.3,118.7 1058.5,119.4 1064.9,119.9 1083.2,120.2 1083.7,68.5 1085.6,98.7 1086.8,110.5 1087.6,114.6 1088.5,117.1 1089.7,118.7 1091.5,119.6 1093.9,120 1097.5,120.3 1114,120.5 1114.5,68.5 1116.3,97.6 1117.4,109.3 1118.1,113.6 1118.9,116.5 1119.8,118.3 1121.1,119.5 1123.2,120.1 1126.7,120.5 1143.8,120.9 1144.3,72 1145.2,85.5" fill="none" stroke-width="1.6" stroke-linejoin="round"/>
<polyline points="1184.1,119.1 1196.1,119.1 1196.6,70 1198.9,103.2 1199.9,111 1201.1,115.5 1202.5,117.5 1203.5,118.1 1204.8,118.5 1209.2,119 1217.8,119.1 1218.3,70 1220.6,103.3 1221.6,111 1222.8,115.5 1224.2,117.6 1226.3,118.5 1230.5,119 1238.6,119.1 1239.1,70 1241.3,102.2 1242.2,109.8 1243.3,114.8 1244.5,117.1 1245.3,117.8 1246.4,118.3 1249.9,118.9 1256.4,119.1 1256.9,70 1259.1,102.2 1260,109.9 1261.1,114.8 1262.3,117.1 1263.1,117.8 1264.2,118.3 1267.6,118.9 1274.1,119.1 1274.6,70 1276.2,94.7 1277.1,105.2 1278.3,113 1279,115.3 1279.8,116.8 1280.6,117.7 1281.7,118.3 1285.3,118.9 1309.2,119.2 1309.7,70 1312,103.3 1313,111.1 1314.1,115.4 1315.4,117.5 1316.3,118.1 1317.5,118.5 1321.4,119 1328.9,119.2 1329.4,70 1331.8,104.3 1332.8,111.6 1334,115.8 1335.4,117.7 1336.4,118.3 1337.8,118.7 1342.4,119.1 1351.7,119.2 1352.2,70 1354.5,103.3 1355.5,111.1 1356.7,115.6 1358.1,117.7 1360.3,118.6 1364.6,119.1 1373,119.2 1373.5,70 1375.8,103.3 1376.8,111.1 1377.9,115.4 1379.2,117.5 1380.1,118.1 1381.3,118.6 1385.2,119.1 1392.7,119.3 1393.2,70 1395.5,103.4 1396.5,111.1 1397.6,115.4 1398.9,117.5 1399.8,118.2 1401,118.6 1405,119.1 1412.6,119.3 1413.1,70 1415.4,103.4 1416.3,110.6 1417.4,115.2 1418.6,117.3 1419.4,118 1420.5,118.5 1424,119.1 1430.6,119.3" fill="none" stroke-width="1.6" stroke-linejoin="round"/>
<polyline points="888.5,147.6 890.9,166.2 892,170.3 892.7,171.7 893.5,172.6 895.3,173.5 898.5,173.9 919.4,174.1 919.9,128 922.2,159.2 923.1,165.9 924.2,170.2 925.5,172.3 927.5,173.4 931.2,173.9 938.3,174.1 938.8,128 941.1,159.2 942.1,166.5 943.2,170.5 944.5,172.5 946.6,173.5 950.5,174 957.8,174.1 958.3,128 959.9,151.2 960.8,161.1 961.9,167.9 962.6,170.3 963.4,171.8 964.2,172.7 965.2,173.2 968.6,173.9 974.7,174.1 990.6,174.2 991.1,128 993.5,160.2 994.5,167.1 995.7,171 997.1,172.8 999.5,173.7 1004,174.1 1013.2,174.2 1013.7,128 1015.3,151.2 1016.2,161.1 1017.3,168 1018,170.4 1018.8,171.9 1019.6,172.8 1020.6,173.3 1024,174 1030,174.2 1045.5,174.3 1046,128 1048.3,159.3 1049.3,166.7 1050.4,170.7 1051.7,172.7 1052.6,173.3 1053.8,173.7 1057.7,174.2 1065.2,174.3 1065.7,128 1068.1,160.3 1069.1,167.2 1070.3,171.2 1071.7,173 1074.1,173.9 1078.6,174.3 1087.5,174.4 1088,128 1089.6,151.3 1090.5,161.2 1091.6,168.2 1092.3,170.5 1093.1,172.1 1093.9,172.9 1094.9,173.5 1098.3,174.1 1104.4,174.4 1120,174.5 1120.5,128 1122.8,159.4 1123.7,166.2 1124.8,170.6 1126.1,172.7 1128,173.8 1131.7,174.3 1138.7,174.5 1139.2,128 1140.9,152.7 1141.9,163 1142.6,167.3 1143.3,170.1 1144.1,171.9 1145.2,173.1" fill="none" stroke-width="1.6" stroke-linejoin="round"/>
<polyline points="1184.1,172.3 1192.1,172.3 1192.6,128.5 1194.5,154.1 1195.8,164.6 1196.6,167.8 1197.6,170 1198.9,171.2 1200.8,171.8 1205,172.2 1213.2,172.3 1213.7,128.5 1215.3,150.5 1216.2,159.9 1217.4,166.8 1218.1,168.9 1218.9,170.3 1219.7,171 1220.8,171.5 1224.4,172.1 1248.4,172.4 1248.9,128.5 1251.2,158.2 1252.1,164.6 1253.2,168.7 1254.4,170.6 1256.3,171.7 1259.8,172.2 1266.4,172.3 1266.9,128.5 1269.2,158.2 1270.1,164.6 1271.2,168.7 1272.5,170.7 1274.5,171.7 1278.2,172.2 1285.2,172.4 1285.7,128.5 1287.9,157.3 1288.8,164.1 1289.9,168.5 1291.1,170.5 1291.9,171.2 1293,171.7 1296.4,172.2 1302.9,172.4 1303.4,128.5 1305.7,158.2 1306.7,165.2 1307.8,169 1309.2,170.9 1311.3,171.8 1315.4,172.3 1323.5,172.4 1324,128.5 1326.3,158.2 1327.3,165.2 1328.5,169.2 1329.9,171 1332.1,171.9 1336.3,172.3 1344.4,172.4 1344.9,128.5 1347.3,159.1 1348.3,165.7 1349.5,169.4 1350.2,170.5 1351,171.2 1353.4,172 1358.1,172.3 1368,172.4 1368.5,128.5 1370.8,158.3 1371.8,165.2 1372.9,169 1374.2,170.9 1376.3,171.9 1380.3,172.3 1388.1,172.5 1388.6,128.5 1390.8,157.3 1391.7,164.1 1392.7,168.3 1393.9,170.5 1395.6,171.6 1398.6,172.2 1404,172.4 1404.5,128.5 1406.7,157.3 1407.6,164.2 1408.7,168.5 1409.9,170.6 1410.7,171.3 1411.8,171.8 1415.2,172.3 1421.5,172.5 1422,128.5 1423.9,154.2 1425.3,165.2 1426.2,168.6 1427.2,170.4 1428.5,171.5 1430.6,172.1" fill="none" stroke-width="1.6" stroke-linejoin="round"/>
<polyline points="888.5,233.3 904.9,233.6 905.4,185 907.4,214.6 908.8,226.2 909.7,229.6 910.8,231.6 912.3,232.7 914.6,233.3 922,233.8 922.5,185 924.4,213.6 925.8,225.9 926.7,229.6 927.7,231.6 929.2,232.9 931.5,233.6 938.3,234.1 938.8,185 940.7,213.7 942.1,226.1 943,229.8 944,231.9 945.4,233.1 947.6,233.8 953.6,234.3 969.5,234.7 970,185 971.9,214 973.2,225.9 974,229.7 975,232.1 976.3,233.5 978.4,234.3 981.5,234.7 986.6,234.9 987.1,185 989,214.2 990.3,226.2 991.1,229.9 992.1,232.4 993.4,233.8 995.3,234.5 998.2,234.9 1002.9,235.2 1003.4,185 1005.3,214.4 1006.6,226.4 1007.4,230.2 1008.3,232.5 1009.5,233.9 1011.4,234.7 1015,235.2 1021.5,235.5 1022,185 1023.9,214.5 1025.1,226 1025.9,230.1 1026.8,232.6 1028,234.1 1029.7,235 1032.4,235.4 1036.9,235.7 1037.4,185 1039.3,214.7 1040.5,226.2 1041.2,229.9 1042.1,232.6 1043.2,234.2 1044.8,235.1 1047,235.6 1050.5,235.9 1066.4,236.3 1066.9,185 1068.7,213.6 1069.9,225.9 1070.6,229.9 1071.4,232.6 1072.4,234.3 1073.8,235.4 1077.3,236.2 1084.4,236.6 1084.9,185 1086.7,213.8 1087.8,225.5 1088.5,229.7 1089.2,232.3 1090.1,234.2 1091.4,235.5 1092.8,236 1095,236.4 1102.9,236.9 1103.4,185 1105.1,212.6 1106.1,224.1 1107.4,231.7 1108.2,233.8 1109.3,235.3 1110.7,236.2 1113,236.7 1122.6,237.2 1123.1,185 1124.7,211.2 1125.6,222.5 1126.7,230.3 1127.4,232.9 1128.2,234.7 1129.6,236.1 1131.7,236.8 1135.5,237.3 1142.3,237.5 1142.8,185 1145.2,221.7" fill="none" stroke-width="1.6" stroke-linejoin="round"/>
<polyline points="1184.1,234.1 1193.5,234.1 1194,187 1195.9,214.5 1197.2,225.8 1198,229.3 1199,231.6 1200.2,232.8 1202.1,233.5 1206.3,234 1214.6,234.1 1215.1,187 1217.4,218.9 1218.3,225.8 1219.4,230.2 1220.7,232.4 1221.6,233 1222.7,233.4 1226.5,233.9 1233.8,234.1 1234.3,187 1235.9,210.7 1236.8,220.8 1238,228.2 1238.7,230.5 1239.5,231.9 1240.3,232.7 1241.4,233.3 1245,233.9 1268.9,234.2 1269.4,187 1271.7,218.9 1272.6,225.8 1273.7,230.2 1275,232.4 1275.9,233.1 1277,233.5 1280.8,234 1288.1,234.2 1288.6,187 1290.2,210.7 1291.1,220.8 1292.2,227.8 1292.9,230.2 1293.7,231.8 1294.5,232.7 1295.6,233.3 1299.1,233.9 1305.4,234.2 1322.6,234.2 1323.1,187 1325.4,219 1326.4,226.4 1327.5,230.5 1328.8,232.5 1329.7,233.2 1330.9,233.6 1334.9,234.1 1342.7,234.2 1343.2,187 1345.5,219 1346.5,226.4 1347.6,230.5 1348.9,232.6 1349.8,233.2 1351,233.6 1355,234.1 1362.7,234.2 1363.2,187 1365.5,219 1366.4,225.9 1367.5,230.3 1368.7,232.4 1369.5,233 1370.6,233.5 1374.1,234 1380.7,234.2 1381.2,187 1383.5,219 1384.5,226.5 1385.6,230.6 1386.9,232.6 1388.9,233.6 1392.7,234.1 1400.1,234.3 1400.6,187 1402.9,219 1403.9,226.5 1405,230.6 1406.3,232.6 1408.3,233.6 1412.1,234.1 1419.5,234.3 1420,187 1422,215.8 1422.8,223.3 1423.6,227.9 1424.6,231 1425.8,232.7 1427.6,233.6 1430.6,234.1" fill="none" stroke-width="1.6" stroke-linejoin="round"/>
<polyline points="888.5,283.1 890.9,289.6 892,291.1 893.3,291.9 894.9,292.2 897.7,292.3 914.6,292.4 915.1,244 917.4,276.8 918.3,283.9 919.4,288.4 920.7,290.6 921.6,291.3 922.7,291.7 926.4,292.3 933.5,292.4 934,244 936.2,275.8 937.1,283.3 938.2,288.1 939.4,290.4 940.2,291.2 941.3,291.7 944.7,292.2 951.2,292.5 951.7,244 953.9,275.8 954.8,283.3 955.9,288.2 957.1,290.5 957.9,291.2 959,291.7 962.5,292.3 969,292.5 969.5,244 971.1,268.4 972,278.8 973.1,286 973.7,288.2 974.5,289.9 975.3,290.9 976.2,291.5 979.4,292.2 985.2,292.5 999.2,292.6 999.7,244 1001.3,268.4 1002.2,278.8 1003.3,286.1 1003.9,288.2 1004.7,290 1005.5,290.9 1006.4,291.5 1009.6,292.3 1015.3,292.5 1029.2,292.6 1029.7,244 1031.9,275.9 1032.8,283.4 1033.9,288.3 1035.1,290.6 1035.9,291.3 1036.9,291.8 1040.2,292.4 1046.3,292.6 1046.8,244 1049,275.9 1049.9,283.4 1051,288.3 1052.2,290.6 1053,291.3 1054,291.8 1057.3,292.4 1063.5,292.6 1064,244 1066.2,275.9 1067.1,283.5 1068.1,288 1069.3,290.5 1070.9,291.7 1073.8,292.4 1079.2,292.6 1079.7,244 1082,277 1083,284.7 1084.1,288.9 1084.7,290.1 1085.5,291.1 1087.6,292.1 1091.7,292.6 1099.8,292.7 1100.3,244 1101.9,268.5 1102.8,278.9 1103.9,286.2 1105.2,290 1106,291 1106.9,291.6 1110,292.4 1115.7,292.7 1129.5,292.8 1130,244 1132.2,276 1133.1,283.6 1134.1,288.1 1135.3,290.6 1136.9,291.8 1139.8,292.5 1145.2,292.7" fill="none" stroke-width="1.6" stroke-linejoin="round"/>
<polyline points="1184.1,295.9 1214.9,295.9 1215.4,249.5 1217.2,271.8 1217.5,253.8 1219.4,271.6 1219.7,254.8 1221.5,271 1221.8,256 1223.7,273 1224,255.6 1225.8,271.9 1226.1,255.3 1228.4,276.9 1228.8,255.2 1230.9,279.7 1231.3,254.6 1233.3,276.2 1233.6,257 1235.6,275 1236,256 1238.2,280.4 1239.1,286.7 1240,290.6 1241.1,293.2 1242.6,294.7 1244.8,295.4 1248.6,295.8 1284,296 1284.5,249.5 1286.6,272.8 1286.9,254.9 1289,275.2 1289.3,257.5 1291.6,282.2 1292.1,254.9 1294.4,279.5 1295.3,285.9 1296.3,290.3 1297.4,292.9 1298.9,294.5 1301,295.4 1304.5,295.8 1313.7,296 1347.8,296 1348.3,249.5 1350,270.4 1350.3,252.7 1352.5,274.9 1352.9,256.5 1355.2,276.4 1355.6,252.9 1357.8,279 1358.1,253.5 1360.7,276.8 1361.1,257.3 1363.1,277.5 1364.3,286.1 1365.8,291.7 1366.7,293.4 1367.9,294.6 1369.1,295.2 1370.6,295.5 1375.9,295.9 1417.7,296.1 1418.2,250 1420.4,277.2 1420.7,256.6 1422.5,275.1 1422.8,254.1 1424.8,276.8 1425.1,253 1427.2,276.5 1427.6,256.8 1429.8,276.7 1430.1,254.9 1430.6,258.8" fill="none" stroke-width="1.6" stroke-linejoin="round"/>
<polyline points="888.5,346.6 890.6,347.8 892.5,348.3 903.3,348.6 903.8,306 905.4,327.4 906.3,336.6 907.4,342.9 908.1,345.1 908.9,346.5 909.7,347.3 910.7,347.9 914.1,348.5 935.5,349.1 936,306 937.7,328.9 938.6,337.7 939.9,344.4 940.7,346.4 941.6,347.5 942.5,348.1 943.8,348.6 948.4,349.1 982.5,349.7 983,306 985.2,334.7 986.1,341.5 987.1,345.6 988.3,347.8 990,349 993,349.6 998.5,349.9 999,306 1001.2,334.8 1002.1,341.7 1003.1,345.8 1004.3,348.1 1006,349.2 1009,349.8 1014.5,350.1 1015,306 1017.2,335 1018.1,341.9 1019.2,346.3 1020.4,348.4 1021.2,349.1 1022.3,349.5 1025.7,350.1 1032.2,350.4 1032.7,306 1034.3,328.3 1035.2,337.9 1036.3,344.5 1037,346.8 1037.8,348.3 1038.6,349.1 1039.6,349.6 1043.1,350.3 1065.4,350.9 1065.9,306 1068.1,335.4 1069,342.4 1070.1,346.9 1071.3,349.1 1073.1,350.2 1076.4,350.8 1082.7,351.1 1083.2,306 1084.9,330 1085.8,339.2 1087.1,346.2 1087.9,348.3 1088.8,349.5 1089.8,350.2 1091.1,350.7 1095.7,351.2 1130.7,351.8 1131.2,306 1133.4,336 1134.2,342.6 1135.2,347.2 1136.3,349.6 1137.9,350.9 1140.5,351.6 1145.2,351.9" fill="none" stroke-width="1.6" stroke-linejoin="round"/>
<polyline points="1184.1,330.2 1185.4,341.2 1185.8,311 1187.7,342.5 1188.6,349.4 1189.2,351.7 1189.6,352.6 1189.7,352.4 1190.2,311.2 1192.1,342.8 1192.9,349 1194,352.7 1194.6,311.6 1196.4,342 1197.3,349.2 1198.4,352.8 1199,312 1200.8,342.4 1201.7,349.3 1202.8,352.8 1203.3,311.1 1205.2,342.7 1206,349 1207.1,352.7 1207.7,311.4 1209.5,341.9 1210.4,349.1 1211.5,352.7 1212.1,311.8 1213.4,335.7 1214.3,346.1 1214.9,349.8 1215.6,352.2 1216.4,353.5 1217.6,354.3 1220.6,354.8 1226.5,355 1326.9,355.1 1327.4,313 1329.5,333.8 1329.8,313 1332,334.7 1332.3,313.1 1334.5,334.9 1334.9,313.3 1337.2,336.1 1337.5,313 1339.9,336.6 1340.3,313.3 1342.7,337.1 1343.1,313.2 1345.6,337.7 1346,313.1 1348.6,338.3 1349,313 1351.8,339.1 1352.2,313.4 1355,340.3 1355.4,313.3 1358.3,340.9 1358.7,313.2 1361.7,341.3 1362.1,313.2 1364.3,334.7 1365.3,342.4 1365.7,313.2 1367.8,334.2 1368.9,342.7 1369.4,313.3 1371.5,334.5 1372.7,343.4 1373.2,313.4 1375.3,334.5 1376.6,344 1377.1,313.2 1379.3,335.2 1380.7,345 1381.1,313 1383.5,336.5 1384.9,345.6 1385.3,313 1387.5,334.9 1388.6,343.1 1390.1,349.5 1391,351.6 1392.1,353.1 1393.2,353.8 1394.6,354.4 1399.3,354.9 1430.6,355.2" fill="none" stroke-width="1.6" stroke-linejoin="round"/>
<polyline points="888.5,410 899.6,410.2 900.1,370 902.5,396.4 903.5,402.7 904.6,406.5 905.9,408.6 907.7,409.6 910.9,410.2 916.9,410.6 917.4,370 919.8,396.6 920.8,403 921.9,406.9 923.2,408.9 925.1,410 928.5,410.6 935,411 935.5,370 937.9,396.9 938.9,403.4 940,407.2 941.3,409.3 943.2,410.4 946.6,411 953,411.4 953.5,370 955.9,397.1 956.9,403.7 958.1,407.8 959.4,409.8 961.4,410.9 964.9,411.4 971.3,411.8 971.8,370 974.2,397.4 975.2,404 976.4,408.2 977.8,410.3 979.8,411.3 983.5,411.9 990.6,412.2 991.1,370 993.5,397.7 994.5,404.3 995.7,408.6 997.1,410.7 999.1,411.7 1002.8,412.3 1009.6,412.6 1010.1,370 1012.5,397.9 1013.5,404.7 1014.6,408.7 1015.9,410.9 1017.8,412 1021.2,412.6 1027.6,413 1028.1,370 1030.5,398.2 1031.5,405 1032.6,409.1 1033.9,411.2 1035.8,412.4 1039.2,413 1045.5,413.4 1046,370 1048.4,398.4 1049.4,405.3 1050.5,409.4 1051.8,411.6 1053.7,412.8 1057.1,413.4 1063.5,413.8 1064,370 1066.4,398.7 1067.4,405.6 1068.6,410 1070,412.2 1072,413.3 1075.7,413.9 1082.8,414.2 1083.3,370 1085.7,399 1086.7,406 1087.8,410.1 1089.1,412.4 1091,413.6 1094.4,414.2 1100.7,414.6 1101.2,370 1103.6,399.2 1104.6,406.3 1105.7,410.5 1107,412.8 1108.9,414 1112.3,414.6 1118.8,415 1119.3,370 1121.9,401.2 1123,408.1 1124.4,412.2 1125.2,413.3 1126.1,414 1128.8,414.8 1134.1,415.3 1145.2,415.6" fill="none" stroke-width="1.6" stroke-linejoin="round"/>
<polyline points="1184.1,388.6 1184.5,391.1 1184.7,387.4 1186.9,403.9 1188.3,411 1189.8,415 1190.8,416.3 1191.9,417.1 1192.4,386 1194.9,403.6 1195.2,386 1197.9,402.9 1199.5,410.1 1200.4,412.7 1201.5,414.8 1202.8,416.3 1204.3,417.2 1208,418 1215.7,418.3 1274.9,418.5 1275.4,383 1279,406.4 1280.5,412 1281.4,414 1282.3,415.4 1284.3,417.1 1287.3,417.9 1292.8,418.3 1303.2,418.5 1303.7,383 1306.7,405.5 1307.9,411 1309.2,414.5 1309.7,387 1312,402.9 1313.3,409.7 1313.7,388 1316.3,405.2 1317.9,412.1 1318.3,387 1321.1,403.1 1322.7,410 1323.7,412.8 1324.7,414.7 1325.9,416.1 1327.3,417.1 1330.6,418 1337.1,418.4 1380.4,418.6 1380.9,385 1383.9,405.2 1385,410.2 1386.1,413.4 1386.9,415 1387.4,386 1389.8,402.1 1390.9,408 1392.4,413.1 1394.1,416 1394.6,386 1397.4,401.8 1398.8,408.2 1400.5,413.1 1401.5,414.8 1402.6,416.1 1403.7,416.9 1405.1,417.5 1408.9,418.2 1416.3,418.5 1430.6,418.6" fill="none" stroke-width="1.6" stroke-linejoin="round"/>
</g>
<line x1="881" y1="348.9" x2="881" y2="426.4" stroke-width="3" stroke-linecap="butt"/>
<line x1="887" y1="428.5" x2="1146.5" y2="428.5" stroke-width="3" stroke-linecap="butt"/>
<line x1="888.5" y1="428.5" x2="888.5" y2="438.5" stroke-width="3" stroke-linecap="butt"/>
<line x1="965.3" y1="428.5" x2="965.3" y2="438.5" stroke-width="3" stroke-linecap="butt"/>
<line x1="1042.3" y1="428.5" x2="1042.3" y2="438.5" stroke-width="3" stroke-linecap="butt"/>
<line x1="1119.3" y1="428.5" x2="1119.3" y2="438.5" stroke-width="3" stroke-linecap="butt"/>
<line x1="1145" y1="423.5" x2="1145" y2="435.5" stroke-width="3" stroke-linecap="butt"/>
<g stroke="none">
<text transform="translate(888.5 462.5) scale(0.9605 1)" font-size="23.95" font-weight="bold" text-anchor="middle" stroke="none">0</text>
<text transform="translate(965.3 462.5) scale(0.9605 1)" font-size="23.95" font-weight="bold" text-anchor="middle" stroke="none">30</text>
<text transform="translate(1042.3 462.5) scale(0.9605 1)" font-size="23.95" font-weight="bold" text-anchor="middle" stroke="none">60</text>
<text transform="translate(1119.3 462.5) scale(0.9605 1)" font-size="23.95" font-weight="bold" text-anchor="middle" stroke="none">90</text>
</g>
<line x1="1182.6" y1="428" x2="1432.1" y2="428" stroke-width="3" stroke-linecap="butt"/>
<line x1="1184.1" y1="428" x2="1184.1" y2="438" stroke-width="3" stroke-linecap="butt"/>
<line x1="1257.4" y1="428" x2="1257.4" y2="438" stroke-width="3" stroke-linecap="butt"/>
<line x1="1331.2" y1="428" x2="1331.2" y2="438" stroke-width="3" stroke-linecap="butt"/>
<line x1="1404.9" y1="428" x2="1404.9" y2="438" stroke-width="3" stroke-linecap="butt"/>
<line x1="1184.1" y1="423" x2="1184.1" y2="438" stroke-width="3" stroke-linecap="butt"/>
<g stroke="none">
<text transform="translate(1184.1 462) scale(0.9605 1)" font-size="23.95" font-weight="bold" text-anchor="middle" stroke="none">700</text>
<text transform="translate(1257.4 462) scale(0.9605 1)" font-size="23.95" font-weight="bold" text-anchor="middle" stroke="none">730</text>
<text transform="translate(1331.2 462) scale(0.9605 1)" font-size="23.95" font-weight="bold" text-anchor="middle" stroke="none">760</text>
<text transform="translate(1404.9 462) scale(0.9605 1)" font-size="23.95" font-weight="bold" text-anchor="middle" stroke="none">790</text>
</g>
<g stroke="none">
<text transform="translate(1158.6 500) scale(0.9605 1)" font-size="30.19" font-weight="bold" text-anchor="middle" stroke="none">Time[s]</text>
<text transform="translate(869.9 432) rotate(-90) scale(0.9605 1)" font-size="25.51" font-weight="normal" text-anchor="start" stroke="none">ΔF/F<tspan dy="5.7" font-size="18.32">0</tspan><tspan dy="-5.7">=2</tspan></text>
<text transform="translate(1456.7 72.4) scale(0.9605 1)" font-size="29.99" font-weight="normal" text-anchor="start" stroke="none">E-4031</text>
<text transform="translate(1496.7 124.4) scale(0.9605 1)" font-size="24.99" font-weight="normal" text-anchor="start" stroke="none">0nM</text>
<text transform="translate(1496.7 183.8) scale(0.9605 1)" font-size="24.99" font-weight="normal" text-anchor="start" stroke="none">1nM</text>
<text transform="translate(1496.7 244) scale(0.9605 1)" font-size="24.99" font-weight="normal" text-anchor="start" stroke="none">10nM</text>
<text transform="translate(1496.7 299.5) scale(0.9605 1)" font-size="24.99" font-weight="normal" text-anchor="start" stroke="none">100nM</text>
<text transform="translate(1496.7 360.1) scale(0.9605 1)" font-size="24.99" font-weight="normal" text-anchor="start" stroke="none">1µM</text>
<text transform="translate(1496.7 424.7) scale(0.9605 1)" font-size="24.99" font-weight="normal" text-anchor="start" stroke="none">10µM</text>
</g>
<line x1="1446.3" y1="116.6" x2="1479.6" y2="116.6" stroke-width="1.7" stroke-linecap="butt"/>
<line x1="1446.3" y1="175.5" x2="1479.6" y2="175.5" stroke-width="1.7" stroke-linecap="butt"/>
<line x1="1446.3" y1="236" x2="1479.6" y2="236" stroke-width="1.7" stroke-linecap="butt"/>
<line x1="1446.3" y1="291.5" x2="1479.6" y2="291.5" stroke-width="1.7" stroke-linecap="butt"/>
<line x1="1446.3" y1="351.5" x2="1479.6" y2="351.5" stroke-width="1.7" stroke-linecap="butt"/>
<line x1="1446.3" y1="416.7" x2="1479.6" y2="416.7" stroke-width="1.7" stroke-linecap="butt"/>
<line x1="141.4" y1="588.8" x2="141.4" y2="941.9" stroke-width="3.2" stroke-linecap="butt"/>
<line x1="129.9" y1="940.4" x2="141.4" y2="940.4" stroke-width="3.2" stroke-linecap="butt"/>
<line x1="129.9" y1="852.9" x2="141.4" y2="852.9" stroke-width="3.2" stroke-linecap="butt"/>
<line x1="129.9" y1="765.3" x2="141.4" y2="765.3" stroke-width="3.2" stroke-linecap="butt"/>
<line x1="129.9" y1="677.8" x2="141.4" y2="677.8" stroke-width="3.2" stroke-linecap="butt"/>
<line x1="129.9" y1="590.3" x2="141.4" y2="590.3" stroke-width="3.2" stroke-linecap="butt"/>
<line x1="141.4" y1="940.4" x2="216.7" y2="940.4" stroke-width="3.2" stroke-linecap="butt"/>
<line x1="216.7" y1="933.4" x2="216.7" y2="947.4" stroke-width="3.0" stroke-linecap="butt"/>
<line x1="242.8" y1="940.4" x2="668.6" y2="940.4" stroke-width="3.2" stroke-linecap="butt"/>
<line x1="242.8" y1="933.4" x2="242.8" y2="947.4" stroke-width="3.0" stroke-linecap="butt"/>
<line x1="179" y1="940.4" x2="179" y2="950.9" stroke-width="3.0" stroke-linecap="butt"/>
<line x1="277.6" y1="940.4" x2="277.6" y2="950.9" stroke-width="3.0" stroke-linecap="butt"/>
<line x1="366.2" y1="940.4" x2="366.2" y2="950.9" stroke-width="3.0" stroke-linecap="butt"/>
<line x1="454.8" y1="940.4" x2="454.8" y2="950.9" stroke-width="3.0" stroke-linecap="butt"/>
<line x1="543.4" y1="940.4" x2="543.4" y2="950.9" stroke-width="3.0" stroke-linecap="butt"/>
<line x1="632" y1="940.4" x2="632" y2="950.9" stroke-width="3.0" stroke-linecap="butt"/>
<g stroke="none">
<text transform="translate(128.4 950.9) scale(0.9605 1)" font-size="30.61" font-weight="bold" text-anchor="end" stroke="none">50</text>
<text transform="translate(128.4 863.4) scale(0.9605 1)" font-size="30.61" font-weight="bold" text-anchor="end" stroke="none">75</text>
<text transform="translate(128.4 775.8) scale(0.9605 1)" font-size="30.61" font-weight="bold" text-anchor="end" stroke="none">100</text>
<text transform="translate(128.4 688.3) scale(0.9605 1)" font-size="30.61" font-weight="bold" text-anchor="end" stroke="none">125</text>
<text transform="translate(128.4 600.8) scale(0.9605 1)" font-size="30.61" font-weight="bold" text-anchor="end" stroke="none">150</text>
<text transform="translate(179 980.8) scale(0.9605 1)" font-size="30.19" font-weight="bold" text-anchor="middle" stroke="none">Veh</text>
<text transform="translate(277.6 980.6) scale(0.9605 1)" font-size="30.71" font-weight="bold" text-anchor="middle" stroke="none">-5.0</text>
<text transform="translate(366.2 980.6) scale(0.9605 1)" font-size="30.71" font-weight="bold" text-anchor="middle" stroke="none">-4.5</text>
<text transform="translate(454.8 980.6) scale(0.9605 1)" font-size="30.71" font-weight="bold" text-anchor="middle" stroke="none">-4.0</text>
<text transform="translate(543.4 980.6) scale(0.9605 1)" font-size="30.71" font-weight="bold" text-anchor="middle" stroke="none">-3.5</text>
<text transform="translate(632 980.6) scale(0.9605 1)" font-size="30.71" font-weight="bold" text-anchor="middle" stroke="none">-3.0</text>
<text transform="translate(403.8 1018.1) scale(0.9605 1)" font-size="30.4" font-weight="bold" text-anchor="middle" stroke="none">Log [4-AP] M</text>
<text transform="translate(63.2 766.5) rotate(-90) scale(0.9605 1)" font-size="30.4" font-weight="bold" text-anchor="middle" stroke="none">Frequency (% Control)</text>
</g>
<g fill="none">
<polyline points="178.6,765.7 218.6,757.7" fill="none" stroke-width="1.7" stroke-linejoin="round"/>
<polyline points="239.5,754.9 277.6,747.6 362.4,799 454.9,777 539,763.8 632,804.8" fill="none" stroke-width="1.7" stroke-linejoin="round"/>
</g>
<line x1="178.6" y1="758.7" x2="178.6" y2="754.7" stroke-width="1.7" stroke-linecap="butt"/>
<line x1="171.3" y1="754.7" x2="185.8" y2="754.7" stroke-width="1.7" stroke-linecap="butt"/>
<line x1="277.6" y1="740.6" x2="277.6" y2="713.7" stroke-width="1.7" stroke-linecap="butt"/>
<line x1="270.4" y1="713.7" x2="284.9" y2="713.7" stroke-width="1.7" stroke-linecap="butt"/>
<line x1="362.4" y1="792" x2="362.4" y2="788.6" stroke-width="1.7" stroke-linecap="butt"/>
<line x1="355.1" y1="788.6" x2="369.6" y2="788.6" stroke-width="1.7" stroke-linecap="butt"/>
<line x1="454.9" y1="770" x2="454.9" y2="765.1" stroke-width="1.7" stroke-linecap="butt"/>
<line x1="447.6" y1="765.1" x2="462.1" y2="765.1" stroke-width="1.7" stroke-linecap="butt"/>
<line x1="539" y1="756.8" x2="539" y2="748.6" stroke-width="1.7" stroke-linecap="butt"/>
<line x1="531.8" y1="748.6" x2="546.2" y2="748.6" stroke-width="1.7" stroke-linecap="butt"/>
<line x1="632" y1="797.8" x2="632" y2="783.4" stroke-width="1.7" stroke-linecap="butt"/>
<line x1="624.8" y1="783.4" x2="639.2" y2="783.4" stroke-width="1.7" stroke-linecap="butt"/>
<circle cx="178.6" cy="765.7" r="6.6" fill="none" stroke-width="1.7"/>
<circle cx="277.6" cy="747.6" r="6.6" fill="none" stroke-width="1.7"/>
<circle cx="362.4" cy="799" r="6.6" fill="none" stroke-width="1.7"/>
<circle cx="454.9" cy="777" r="6.6" fill="none" stroke-width="1.7"/>
<circle cx="539" cy="763.8" r="6.6" fill="none" stroke-width="1.7"/>
<circle cx="632" cy="804.8" r="6.6" fill="none" stroke-width="1.7"/>
<line x1="141.4" y1="1134.7" x2="141.4" y2="1488.1" stroke-width="3.2" stroke-linecap="butt"/>
<line x1="129.9" y1="1486.6" x2="141.4" y2="1486.6" stroke-width="3.2" stroke-linecap="butt"/>
<line x1="129.9" y1="1399" x2="141.4" y2="1399" stroke-width="3.2" stroke-linecap="butt"/>
<line x1="129.9" y1="1311.4" x2="141.4" y2="1311.4" stroke-width="3.2" stroke-linecap="butt"/>
<line x1="129.9" y1="1223.8" x2="141.4" y2="1223.8" stroke-width="3.2" stroke-linecap="butt"/>
<line x1="129.9" y1="1136.2" x2="141.4" y2="1136.2" stroke-width="3.2" stroke-linecap="butt"/>
<line x1="141.4" y1="1486.6" x2="216.7" y2="1486.6" stroke-width="3.2" stroke-linecap="butt"/>
<line x1="216.7" y1="1479.6" x2="216.7" y2="1493.6" stroke-width="3.0" stroke-linecap="butt"/>
<line x1="242.8" y1="1486.6" x2="668.6" y2="1486.6" stroke-width="3.2" stroke-linecap="butt"/>
<line x1="242.8" y1="1479.6" x2="242.8" y2="1493.6" stroke-width="3.0" stroke-linecap="butt"/>
<line x1="179" y1="1486.6" x2="179" y2="1497.1" stroke-width="3.0" stroke-linecap="butt"/>
<line x1="277.6" y1="1486.6" x2="277.6" y2="1497.1" stroke-width="3.0" stroke-linecap="butt"/>
<line x1="366.2" y1="1486.6" x2="366.2" y2="1497.1" stroke-width="3.0" stroke-linecap="butt"/>
<line x1="454.8" y1="1486.6" x2="454.8" y2="1497.1" stroke-width="3.0" stroke-linecap="butt"/>
<line x1="543.4" y1="1486.6" x2="543.4" y2="1497.1" stroke-width="3.0" stroke-linecap="butt"/>
<line x1="632" y1="1486.6" x2="632" y2="1497.1" stroke-width="3.0" stroke-linecap="butt"/>
<g stroke="none">
<text transform="translate(128.4 1497.1) scale(0.9605 1)" font-size="30.61" font-weight="bold" text-anchor="end" stroke="none">50</text>
<text transform="translate(128.4 1409.5) scale(0.9605 1)" font-size="30.61" font-weight="bold" text-anchor="end" stroke="none">75</text>
<text transform="translate(128.4 1321.9) scale(0.9605 1)" font-size="30.61" font-weight="bold" text-anchor="end" stroke="none">100</text>
<text transform="translate(128.4 1234.3) scale(0.9605 1)" font-size="30.61" font-weight="bold" text-anchor="end" stroke="none">125</text>
<text transform="translate(128.4 1146.7) scale(0.9605 1)" font-size="30.61" font-weight="bold" text-anchor="end" stroke="none">150</text>
<text transform="translate(179 1527) scale(0.9605 1)" font-size="30.19" font-weight="bold" text-anchor="middle" stroke="none">Veh</text>
<text transform="translate(277.6 1526.8) scale(0.9605 1)" font-size="30.71" font-weight="bold" text-anchor="middle" stroke="none">-5.0</text>
<text transform="translate(366.2 1526.8) scale(0.9605 1)" font-size="30.71" font-weight="bold" text-anchor="middle" stroke="none">-4.5</text>
<text transform="translate(454.8 1526.8) scale(0.9605 1)" font-size="30.71" font-weight="bold" text-anchor="middle" stroke="none">-4.0</text>
<text transform="translate(543.4 1526.8) scale(0.9605 1)" font-size="30.71" font-weight="bold" text-anchor="middle" stroke="none">-3.5</text>
<text transform="translate(632 1526.8) scale(0.9605 1)" font-size="30.71" font-weight="bold" text-anchor="middle" stroke="none">-3.0</text>
<text transform="translate(403.8 1564.3) scale(0.9605 1)" font-size="30.4" font-weight="bold" text-anchor="middle" stroke="none">Log [4-AP] M</text>
<text transform="translate(63.2 1310.7) rotate(-90) scale(0.9605 1)" font-size="30.4" font-weight="bold" text-anchor="middle" stroke="none">Amplitude (% Control)</text>
</g>
<g fill="none">
<polyline points="179,1303.2 216.8,1302.3" fill="none" stroke-width="1.7" stroke-linejoin="round"/>
<polyline points="242.8,1301.8 285.9,1300.3 323.1,1298.2 340.8,1296.8 356.4,1295.4 372.1,1293.6 387.8,1291.6 413.3,1287.7 440.7,1282.7 466.2,1277.4 524.9,1264.5 542.6,1260.9 558.2,1258 577.8,1254.7 595.5,1252.1 613.1,1249.9 632.7,1247.9" fill="none" stroke-width="1.7" stroke-linejoin="round"/>
</g>
<line x1="539.3" y1="1255.4" x2="539.3" y2="1255" stroke-width="1.7" stroke-linecap="butt"/>
<line x1="532" y1="1255" x2="546.5" y2="1255" stroke-width="1.7" stroke-linecap="butt"/>
<line x1="632.1" y1="1240.2" x2="632.1" y2="1239.2" stroke-width="1.7" stroke-linecap="butt"/>
<line x1="624.9" y1="1239.2" x2="639.4" y2="1239.2" stroke-width="1.7" stroke-linecap="butt"/>
<rect x="172.4" y="1304.8" width="13.2" height="13.2" fill="none" stroke-width="1.8"/>
<rect x="271.4" y="1286.6" width="13.2" height="13.2" fill="none" stroke-width="1.8"/>
<rect x="355.9" y="1284.7" width="13.2" height="13.2" fill="none" stroke-width="1.8"/>
<rect x="448.2" y="1275.7" width="13.2" height="13.2" fill="none" stroke-width="1.8"/>
<rect x="532.7" y="1255.4" width="13.2" height="13.2" fill="none" stroke-width="1.8"/>
<rect x="625.5" y="1240.2" width="13.2" height="13.2" fill="none" stroke-width="1.8"/>
<line x1="149.8" y1="1653.7" x2="149.8" y2="2007.1" stroke-width="3.2" stroke-linecap="butt"/>
<line x1="138.3" y1="2005.6" x2="149.8" y2="2005.6" stroke-width="3.2" stroke-linecap="butt"/>
<line x1="138.3" y1="1918" x2="149.8" y2="1918" stroke-width="3.2" stroke-linecap="butt"/>
<line x1="138.3" y1="1830.4" x2="149.8" y2="1830.4" stroke-width="3.2" stroke-linecap="butt"/>
<line x1="138.3" y1="1742.8" x2="149.8" y2="1742.8" stroke-width="3.2" stroke-linecap="butt"/>
<line x1="138.3" y1="1655.2" x2="149.8" y2="1655.2" stroke-width="3.2" stroke-linecap="butt"/>
<line x1="149.8" y1="2005.6" x2="225.7" y2="2005.6" stroke-width="3.2" stroke-linecap="butt"/>
<line x1="225.7" y1="1998.6" x2="225.7" y2="2012.6" stroke-width="3.0" stroke-linecap="butt"/>
<line x1="251.4" y1="2005.6" x2="676.4" y2="2005.6" stroke-width="3.2" stroke-linecap="butt"/>
<line x1="251.4" y1="1998.6" x2="251.4" y2="2012.6" stroke-width="3.0" stroke-linecap="butt"/>
<line x1="187.6" y1="2005.6" x2="187.6" y2="2016.1" stroke-width="3.0" stroke-linecap="butt"/>
<line x1="286.1" y1="2005.6" x2="286.1" y2="2016.1" stroke-width="3.0" stroke-linecap="butt"/>
<line x1="374.6" y1="2005.6" x2="374.6" y2="2016.1" stroke-width="3.0" stroke-linecap="butt"/>
<line x1="463.1" y1="2005.6" x2="463.1" y2="2016.1" stroke-width="3.0" stroke-linecap="butt"/>
<line x1="551.6" y1="2005.6" x2="551.6" y2="2016.1" stroke-width="3.0" stroke-linecap="butt"/>
<line x1="640.1" y1="2005.6" x2="640.1" y2="2016.1" stroke-width="3.0" stroke-linecap="butt"/>
<g stroke="none">
<text transform="translate(136.8 2016.1) scale(0.9605 1)" font-size="30.61" font-weight="bold" text-anchor="end" stroke="none">50</text>
<text transform="translate(136.8 1928.5) scale(0.9605 1)" font-size="30.61" font-weight="bold" text-anchor="end" stroke="none">75</text>
<text transform="translate(136.8 1840.9) scale(0.9605 1)" font-size="30.61" font-weight="bold" text-anchor="end" stroke="none">100</text>
<text transform="translate(136.8 1753.3) scale(0.9605 1)" font-size="30.61" font-weight="bold" text-anchor="end" stroke="none">125</text>
<text transform="translate(136.8 1665.7) scale(0.9605 1)" font-size="30.61" font-weight="bold" text-anchor="end" stroke="none">150</text>
<text transform="translate(187.6 2046) scale(0.9605 1)" font-size="30.19" font-weight="bold" text-anchor="middle" stroke="none">Veh</text>
<text transform="translate(286.1 2045.8) scale(0.9605 1)" font-size="30.71" font-weight="bold" text-anchor="middle" stroke="none">-5.0</text>
<text transform="translate(374.6 2045.8) scale(0.9605 1)" font-size="30.71" font-weight="bold" text-anchor="middle" stroke="none">-4.5</text>
<text transform="translate(463.1 2045.8) scale(0.9605 1)" font-size="30.71" font-weight="bold" text-anchor="middle" stroke="none">-4.0</text>
<text transform="translate(551.6 2045.8) scale(0.9605 1)" font-size="30.71" font-weight="bold" text-anchor="middle" stroke="none">-3.5</text>
<text transform="translate(640.1 2045.8) scale(0.9605 1)" font-size="30.71" font-weight="bold" text-anchor="middle" stroke="none">-3.0</text>
<text transform="translate(412.2 2083.3) scale(0.9605 1)" font-size="30.4" font-weight="bold" text-anchor="middle" stroke="none">Log [4-AP] M</text>
<text transform="translate(70.8 1828.9) rotate(-90) scale(0.9605 1)" font-size="30.4" font-weight="bold" text-anchor="middle" stroke="none">FWHM (% Control)</text>
</g>
<g fill="none">
<polyline points="187.2,1810.9 225.7,1808" fill="none" stroke-width="1.7" stroke-linejoin="round"/>
<polyline points="251.2,1805.4 264.9,1803.3 278.6,1800.9 292.2,1798.1 304,1795.5 317.6,1792.2 329.4,1788.9 341.1,1785.4 352.8,1781.6 364.5,1777.6 376.2,1773.2 388,1768.5 401.6,1762.8 427,1751.5 475.9,1728.5 495.4,1719.6 516.9,1710.4 538.4,1701.9 552.1,1697 563.8,1693.1 575.5,1689.5 587.2,1686.1 599,1683.1 612.6,1679.9 626.3,1677.1 640,1674.6" fill="none" stroke-width="1.7" stroke-linejoin="round"/>
</g>
<line x1="286.7" y1="1779.3" x2="286.7" y2="1778.8" stroke-width="1.7" stroke-linecap="butt"/>
<line x1="279.4" y1="1778.8" x2="293.9" y2="1778.8" stroke-width="1.7" stroke-linecap="butt"/>
<line x1="548" y1="1705.5" x2="548" y2="1704.1" stroke-width="1.7" stroke-linecap="butt"/>
<line x1="540.8" y1="1704.1" x2="555.2" y2="1704.1" stroke-width="1.7" stroke-linecap="butt"/>
<polygon points="187.2,1822.3 195.4,1830.5 187.2,1838.7 179,1830.5" fill="none" stroke-width="1.7" stroke-linejoin="miter"/>
<polygon points="286.7,1779.1 294.9,1787.3 286.7,1795.5 278.5,1787.3" fill="none" stroke-width="1.7" stroke-linejoin="miter"/>
<polygon points="370.7,1751.1 378.9,1759.3 370.7,1767.5 362.5,1759.3" fill="none" stroke-width="1.7" stroke-linejoin="miter"/>
<polygon points="463.5,1734.6 471.7,1742.8 463.5,1751 455.3,1742.8" fill="none" stroke-width="1.7" stroke-linejoin="miter"/>
<polygon points="548,1705.3 556.2,1713.5 548,1721.7 539.8,1713.5" fill="none" stroke-width="1.7" stroke-linejoin="miter"/>
<polygon points="640,1653.8 648.2,1662 640,1670.2 631.8,1662" fill="none" stroke-width="1.7" stroke-linejoin="miter"/>
<line x1="990.7" y1="589.4" x2="990.7" y2="942.1" stroke-width="3.2" stroke-linecap="butt"/>
<line x1="979.2" y1="940.6" x2="990.7" y2="940.6" stroke-width="3.2" stroke-linecap="butt"/>
<line x1="979.2" y1="824" x2="990.7" y2="824" stroke-width="3.2" stroke-linecap="butt"/>
<line x1="979.2" y1="707.5" x2="990.7" y2="707.5" stroke-width="3.2" stroke-linecap="butt"/>
<line x1="979.2" y1="590.9" x2="990.7" y2="590.9" stroke-width="3.2" stroke-linecap="butt"/>
<line x1="990.7" y1="940.6" x2="1066.1" y2="940.6" stroke-width="3.2" stroke-linecap="butt"/>
<line x1="1066.1" y1="933.6" x2="1066.1" y2="947.6" stroke-width="3.0" stroke-linecap="butt"/>
<line x1="1092" y1="940.6" x2="1518.6" y2="940.6" stroke-width="3.2" stroke-linecap="butt"/>
<line x1="1092" y1="933.6" x2="1092" y2="947.6" stroke-width="3.0" stroke-linecap="butt"/>
<line x1="1027.6" y1="940.6" x2="1027.6" y2="951.1" stroke-width="3.0" stroke-linecap="butt"/>
<line x1="1128.6" y1="940.6" x2="1128.6" y2="951.1" stroke-width="3.0" stroke-linecap="butt"/>
<line x1="1221" y1="940.6" x2="1221" y2="951.1" stroke-width="3.0" stroke-linecap="butt"/>
<line x1="1313.3" y1="940.6" x2="1313.3" y2="951.1" stroke-width="3.0" stroke-linecap="butt"/>
<line x1="1405.7" y1="940.6" x2="1405.7" y2="951.1" stroke-width="3.0" stroke-linecap="butt"/>
<line x1="1498" y1="940.6" x2="1498" y2="951.1" stroke-width="3.0" stroke-linecap="butt"/>
<g stroke="none">
<text transform="translate(977.7 951.1) scale(0.9605 1)" font-size="30.61" font-weight="bold" text-anchor="end" stroke="none">0</text>
<text transform="translate(977.7 834.5) scale(0.9605 1)" font-size="30.61" font-weight="bold" text-anchor="end" stroke="none">50</text>
<text transform="translate(977.7 718) scale(0.9605 1)" font-size="30.61" font-weight="bold" text-anchor="end" stroke="none">100</text>
<text transform="translate(977.7 601.4) scale(0.9605 1)" font-size="30.61" font-weight="bold" text-anchor="end" stroke="none">150</text>
<text transform="translate(1027.6 981) scale(0.9605 1)" font-size="30.19" font-weight="bold" text-anchor="middle" stroke="none">Veh</text>
<text transform="translate(1128.6 979.3) scale(0.9605 1)" font-size="27.59" font-weight="bold" text-anchor="middle" stroke="none">-9</text>
<text transform="translate(1221 979.3) scale(0.9605 1)" font-size="27.59" font-weight="bold" text-anchor="middle" stroke="none">-8</text>
<text transform="translate(1313.3 979.3) scale(0.9605 1)" font-size="27.59" font-weight="bold" text-anchor="middle" stroke="none">-7</text>
<text transform="translate(1405.7 979.3) scale(0.9605 1)" font-size="27.59" font-weight="bold" text-anchor="middle" stroke="none">-6</text>
<text transform="translate(1498 979.3) scale(0.9605 1)" font-size="27.59" font-weight="bold" text-anchor="middle" stroke="none">-5</text>
<text transform="translate(1249 1024.6) scale(0.9605 1)" font-size="34.88" font-weight="bold" text-anchor="middle" stroke="none">Log [E4031] M</text>
<text transform="translate(912.9 765.7) rotate(-90) scale(0.9605 1)" font-size="30.4" font-weight="bold" text-anchor="middle" stroke="none">Frequency (% Control)</text>
</g>
<g fill="none">
<polyline points="1028.4,695.2 1066.5,695.2" fill="none" stroke-width="1.7" stroke-linejoin="round"/>
<polyline points="1092,696.9 1113.8,698 1131.4,699.5 1147.8,701.7 1162.7,704.5 1169.5,706.1 1176.3,708 1183.1,710.2 1188.6,712.2 1199.4,717 1204.9,719.8 1210.3,722.9 1219.8,729 1228,735.2 1236.1,742 1245.7,750.9 1253.8,759.3 1262,768.2 1287.8,797.9 1298.7,809.9 1308.2,819.8 1317.7,828.9 1323.2,833.6 1328.6,838 1334.1,842 1339.5,845.8 1344.9,849.2 1350.4,852.2 1355.8,855 1361.3,857.5 1366.7,859.8 1373.5,862.2 1385.7,865.8 1399.3,868.8 1414.3,871.2 1430.6,873 1449.6,874.3 1471.4,875.2 1498.6,875.9" fill="none" stroke-width="1.7" stroke-linejoin="round"/>
</g>
<line x1="1128.9" y1="689.8" x2="1128.9" y2="682.5" stroke-width="1.7" stroke-linecap="butt"/>
<line x1="1121.7" y1="682.5" x2="1136.2" y2="682.5" stroke-width="1.7" stroke-linecap="butt"/>
<line x1="1221.3" y1="697.1" x2="1221.3" y2="685.1" stroke-width="1.7" stroke-linecap="butt"/>
<line x1="1214" y1="685.1" x2="1228.5" y2="685.1" stroke-width="1.7" stroke-linecap="butt"/>
<line x1="1405.8" y1="867.9" x2="1405.8" y2="864.8" stroke-width="1.7" stroke-linecap="butt"/>
<line x1="1398.5" y1="864.8" x2="1413" y2="864.8" stroke-width="1.7" stroke-linecap="butt"/>
<line x1="1498.6" y1="854.9" x2="1498.6" y2="849.1" stroke-width="1.7" stroke-linecap="butt"/>
<line x1="1491.3" y1="849.1" x2="1505.8" y2="849.1" stroke-width="1.7" stroke-linecap="butt"/>
<circle cx="1028.4" cy="707.3" r="6.6" fill="none" stroke-width="1.7"/>
<circle cx="1128.9" cy="696.8" r="6.6" fill="none" stroke-width="1.7"/>
<circle cx="1221.3" cy="704.1" r="6.6" fill="none" stroke-width="1.7"/>
<circle cx="1313.8" cy="843.4" r="6.6" fill="none" stroke-width="1.7"/>
<circle cx="1405.8" cy="874.9" r="6.6" fill="none" stroke-width="1.7"/>
<circle cx="1498.6" cy="861.9" r="6.6" fill="none" stroke-width="1.7"/>
<line x1="993.5" y1="1133.9" x2="993.5" y2="1487.6" stroke-width="3.2" stroke-linecap="butt"/>
<line x1="982" y1="1486.1" x2="993.5" y2="1486.1" stroke-width="3.2" stroke-linecap="butt"/>
<line x1="982" y1="1398.4" x2="993.5" y2="1398.4" stroke-width="3.2" stroke-linecap="butt"/>
<line x1="982" y1="1310.8" x2="993.5" y2="1310.8" stroke-width="3.2" stroke-linecap="butt"/>
<line x1="982" y1="1223.1" x2="993.5" y2="1223.1" stroke-width="3.2" stroke-linecap="butt"/>
<line x1="982" y1="1135.4" x2="993.5" y2="1135.4" stroke-width="3.2" stroke-linecap="butt"/>
<line x1="993.5" y1="1486.1" x2="1068.6" y2="1486.1" stroke-width="3.2" stroke-linecap="butt"/>
<line x1="1068.6" y1="1479.1" x2="1068.6" y2="1493.1" stroke-width="3.0" stroke-linecap="butt"/>
<line x1="1094.9" y1="1486.1" x2="1520.9" y2="1486.1" stroke-width="3.2" stroke-linecap="butt"/>
<line x1="1094.9" y1="1479.1" x2="1094.9" y2="1493.1" stroke-width="3.0" stroke-linecap="butt"/>
<line x1="1030.9" y1="1486.1" x2="1030.9" y2="1496.6" stroke-width="3.0" stroke-linecap="butt"/>
<line x1="1132" y1="1486.1" x2="1132" y2="1496.6" stroke-width="3.0" stroke-linecap="butt"/>
<line x1="1224.2" y1="1486.1" x2="1224.2" y2="1496.6" stroke-width="3.0" stroke-linecap="butt"/>
<line x1="1316.4" y1="1486.1" x2="1316.4" y2="1496.6" stroke-width="3.0" stroke-linecap="butt"/>
<line x1="1408.6" y1="1486.1" x2="1408.6" y2="1496.6" stroke-width="3.0" stroke-linecap="butt"/>
<line x1="1500.8" y1="1486.1" x2="1500.8" y2="1496.6" stroke-width="3.0" stroke-linecap="butt"/>
<g stroke="none">
<text transform="translate(980.5 1496.6) scale(0.9605 1)" font-size="30.61" font-weight="bold" text-anchor="end" stroke="none">0</text>
<text transform="translate(980.5 1408.9) scale(0.9605 1)" font-size="30.61" font-weight="bold" text-anchor="end" stroke="none">50</text>
<text transform="translate(980.5 1321.2) scale(0.9605 1)" font-size="30.61" font-weight="bold" text-anchor="end" stroke="none">100</text>
<text transform="translate(980.5 1233.6) scale(0.9605 1)" font-size="30.61" font-weight="bold" text-anchor="end" stroke="none">150</text>
<text transform="translate(980.5 1145.9) scale(0.9605 1)" font-size="30.61" font-weight="bold" text-anchor="end" stroke="none">200</text>
<text transform="translate(1030.9 1526.5) scale(0.9605 1)" font-size="30.19" font-weight="bold" text-anchor="middle" stroke="none">Veh</text>
<text transform="translate(1132 1526.6) scale(0.9605 1)" font-size="30.71" font-weight="bold" text-anchor="middle" stroke="none">-9</text>
<text transform="translate(1224.2 1526.6) scale(0.9605 1)" font-size="30.71" font-weight="bold" text-anchor="middle" stroke="none">-8</text>
<text transform="translate(1316.4 1526.6) scale(0.9605 1)" font-size="30.71" font-weight="bold" text-anchor="middle" stroke="none">-7</text>
<text transform="translate(1408.6 1526.6) scale(0.9605 1)" font-size="30.71" font-weight="bold" text-anchor="middle" stroke="none">-6</text>
<text transform="translate(1500.8 1526.6) scale(0.9605 1)" font-size="30.71" font-weight="bold" text-anchor="middle" stroke="none">-5</text>
<text transform="translate(1254.8 1570) scale(0.9605 1)" font-size="34.88" font-weight="bold" text-anchor="middle" stroke="none">Log [E4031] M</text>
<text transform="translate(912.9 1311.7) rotate(-90) scale(0.9605 1)" font-size="30.4" font-weight="bold" text-anchor="middle" stroke="none">Amplitude (% Control)</text>
</g>
<g fill="none">
<polyline points="1031.4,1311.6 1070.3,1308.1" fill="none" stroke-width="1.7" stroke-linejoin="round"/>
<polyline points="1092,1307.5 1115.7,1306.3 1134.8,1304.9 1179.4,1300.4 1204.6,1298.4 1214.5,1298 1224,1297.8 1233.2,1298 1242.5,1298.4 1260.9,1299.8 1302.5,1304.2 1316.3,1305.4 1330.2,1306.4 1376.4,1309 1390.2,1310.2 1404.1,1311.7 1417.9,1313.7 1436.4,1317.1 1450.2,1320 1500.9,1331.3" fill="none" stroke-width="1.7" stroke-linejoin="round"/>
</g>
<rect x="1024.7" y="1305" width="13.2" height="13.2" fill="none" stroke-width="1.8"/>
<rect x="1124.8" y="1298.6" width="13.2" height="13.2" fill="none" stroke-width="1.8"/>
<rect x="1217.4" y="1291.2" width="13.2" height="13.2" fill="none" stroke-width="1.8"/>
<rect x="1309.7" y="1298.8" width="13.2" height="13.2" fill="none" stroke-width="1.8"/>
<rect x="1402.1" y="1305.7" width="13.2" height="13.2" fill="none" stroke-width="1.8"/>
<rect x="1494.3" y="1324.7" width="13.2" height="13.2" fill="none" stroke-width="1.8"/>
<line x1="993.5" y1="1654.1" x2="993.5" y2="2006.8" stroke-width="3.2" stroke-linecap="butt"/>
<line x1="982" y1="2005.3" x2="993.5" y2="2005.3" stroke-width="3.2" stroke-linecap="butt"/>
<line x1="982" y1="1917.9" x2="993.5" y2="1917.9" stroke-width="3.2" stroke-linecap="butt"/>
<line x1="982" y1="1830.4" x2="993.5" y2="1830.4" stroke-width="3.2" stroke-linecap="butt"/>
<line x1="982" y1="1743" x2="993.5" y2="1743" stroke-width="3.2" stroke-linecap="butt"/>
<line x1="982" y1="1655.6" x2="993.5" y2="1655.6" stroke-width="3.2" stroke-linecap="butt"/>
<line x1="993.5" y1="2005.3" x2="1068.6" y2="2005.3" stroke-width="3.2" stroke-linecap="butt"/>
<line x1="1068.6" y1="1998.3" x2="1068.6" y2="2012.3" stroke-width="3.0" stroke-linecap="butt"/>
<line x1="1094.9" y1="2005.3" x2="1520.9" y2="2005.3" stroke-width="3.2" stroke-linecap="butt"/>
<line x1="1094.9" y1="1998.3" x2="1094.9" y2="2012.3" stroke-width="3.0" stroke-linecap="butt"/>
<line x1="1030.9" y1="2005.3" x2="1030.9" y2="2015.8" stroke-width="3.0" stroke-linecap="butt"/>
<line x1="1132" y1="2005.3" x2="1132" y2="2015.8" stroke-width="3.0" stroke-linecap="butt"/>
<line x1="1224.2" y1="2005.3" x2="1224.2" y2="2015.8" stroke-width="3.0" stroke-linecap="butt"/>
<line x1="1316.4" y1="2005.3" x2="1316.4" y2="2015.8" stroke-width="3.0" stroke-linecap="butt"/>
<line x1="1408.6" y1="2005.3" x2="1408.6" y2="2015.8" stroke-width="3.0" stroke-linecap="butt"/>
<line x1="1500.8" y1="2005.3" x2="1500.8" y2="2015.8" stroke-width="3.0" stroke-linecap="butt"/>
<g stroke="none">
<text transform="translate(980.5 2015.8) scale(0.9605 1)" font-size="30.61" font-weight="bold" text-anchor="end" stroke="none">0</text>
<text transform="translate(980.5 1928.4) scale(0.9605 1)" font-size="30.61" font-weight="bold" text-anchor="end" stroke="none">300</text>
<text transform="translate(980.5 1840.9) scale(0.9605 1)" font-size="30.61" font-weight="bold" text-anchor="end" stroke="none">600</text>
<text transform="translate(980.5 1753.5) scale(0.9605 1)" font-size="30.61" font-weight="bold" text-anchor="end" stroke="none">900</text>
<text transform="translate(980.5 1666.1) scale(0.9605 1)" font-size="30.61" font-weight="bold" text-anchor="end" stroke="none">1200</text>
<text transform="translate(1030.9 2045.7) scale(0.9605 1)" font-size="30.19" font-weight="bold" text-anchor="middle" stroke="none">Veh</text>
<text transform="translate(1132 2045.8) scale(0.9605 1)" font-size="30.71" font-weight="bold" text-anchor="middle" stroke="none">-9</text>
<text transform="translate(1224.2 2045.8) scale(0.9605 1)" font-size="30.71" font-weight="bold" text-anchor="middle" stroke="none">-8</text>
<text transform="translate(1316.4 2045.8) scale(0.9605 1)" font-size="30.71" font-weight="bold" text-anchor="middle" stroke="none">-7</text>
<text transform="translate(1408.6 2045.8) scale(0.9605 1)" font-size="30.71" font-weight="bold" text-anchor="middle" stroke="none">-6</text>
<text transform="translate(1500.8 2045.8) scale(0.9605 1)" font-size="30.71" font-weight="bold" text-anchor="middle" stroke="none">-5</text>
<text transform="translate(1254.8 2089.2) scale(0.9605 1)" font-size="34.88" font-weight="bold" text-anchor="middle" stroke="none">Log [E4031] M</text>
<text transform="translate(912.9 1830.5) rotate(-90) scale(0.9605 1)" font-size="30.4" font-weight="bold" text-anchor="middle" stroke="none">FWHM (% Control)</text>
</g>
<g fill="none">
<polyline points="1030.9,1989 1069,1989" fill="none" stroke-width="1.7" stroke-linejoin="round"/>
<polyline points="1094.9,1985.9 1115.3,1984 1124.8,1982.7 1132.9,1981.4 1141,1979.8 1149.2,1977.8 1156,1975.9 1162.8,1973.7 1169.5,1971.2 1176.3,1968.2 1183.1,1964.8 1188.5,1961.8 1195.3,1957.4 1200.8,1953.6 1206.2,1949.3 1211.6,1944.6 1217,1939.5 1221.1,1935.3 1229.3,1926.2 1238.8,1914.4 1248.3,1901.1 1256.4,1888.8 1264.5,1875.8 1291.7,1830.3 1301.2,1814.8 1312.1,1798.2 1321.6,1784.9 1327,1777.9 1332.4,1771.3 1337.8,1765.2 1343.3,1759.6 1348.7,1754.4 1354.1,1749.7 1359.6,1745.4 1365,1741.4 1370.4,1737.9 1377.2,1734 1382.6,1731.2 1389.4,1728.1 1396.2,1725.5 1403,1723.2 1409.8,1721.2 1417.9,1719.2 1426.1,1717.5 1434.2,1716.1 1443.7,1714.8 1453.2,1713.7 1474.9,1712 1500.7,1710.9" fill="none" stroke-width="1.7" stroke-linejoin="round"/>
</g>
<line x1="1316.2" y1="1755.6" x2="1316.2" y2="1727.2" stroke-width="1.7" stroke-linecap="butt"/>
<line x1="1309" y1="1727.2" x2="1323.5" y2="1727.2" stroke-width="1.7" stroke-linecap="butt"/>
<line x1="1408.7" y1="1691.8" x2="1408.7" y2="1667.7" stroke-width="1.7" stroke-linecap="butt"/>
<line x1="1401.5" y1="1667.7" x2="1416" y2="1667.7" stroke-width="1.7" stroke-linecap="butt"/>
<line x1="1500.7" y1="1727.8" x2="1500.7" y2="1692.7" stroke-width="1.7" stroke-linecap="butt"/>
<line x1="1493.5" y1="1692.7" x2="1508" y2="1692.7" stroke-width="1.7" stroke-linecap="butt"/>
<polygon points="1031.4,1968 1039.6,1976.2 1031.4,1984.4 1023.2,1976.2" fill="none" stroke-width="1.7" stroke-linejoin="miter"/>
<polygon points="1131.4,1968 1139.6,1976.2 1131.4,1984.4 1123.2,1976.2" fill="none" stroke-width="1.7" stroke-linejoin="miter"/>
<polygon points="1223.8,1957.5 1232,1965.7 1223.8,1973.9 1215.6,1965.7" fill="none" stroke-width="1.7" stroke-linejoin="miter"/>
<polygon points="1316.2,1755.4 1324.4,1763.6 1316.2,1771.8 1308,1763.6" fill="none" stroke-width="1.7" stroke-linejoin="miter"/>
<polygon points="1408.7,1691.6 1416.9,1699.8 1408.7,1708 1400.5,1699.8" fill="none" stroke-width="1.7" stroke-linejoin="miter"/>
<polygon points="1500.7,1727.6 1508.9,1735.8 1500.7,1744 1492.5,1735.8" fill="none" stroke-width="1.7" stroke-linejoin="miter"/>
</svg>
</body></html>
